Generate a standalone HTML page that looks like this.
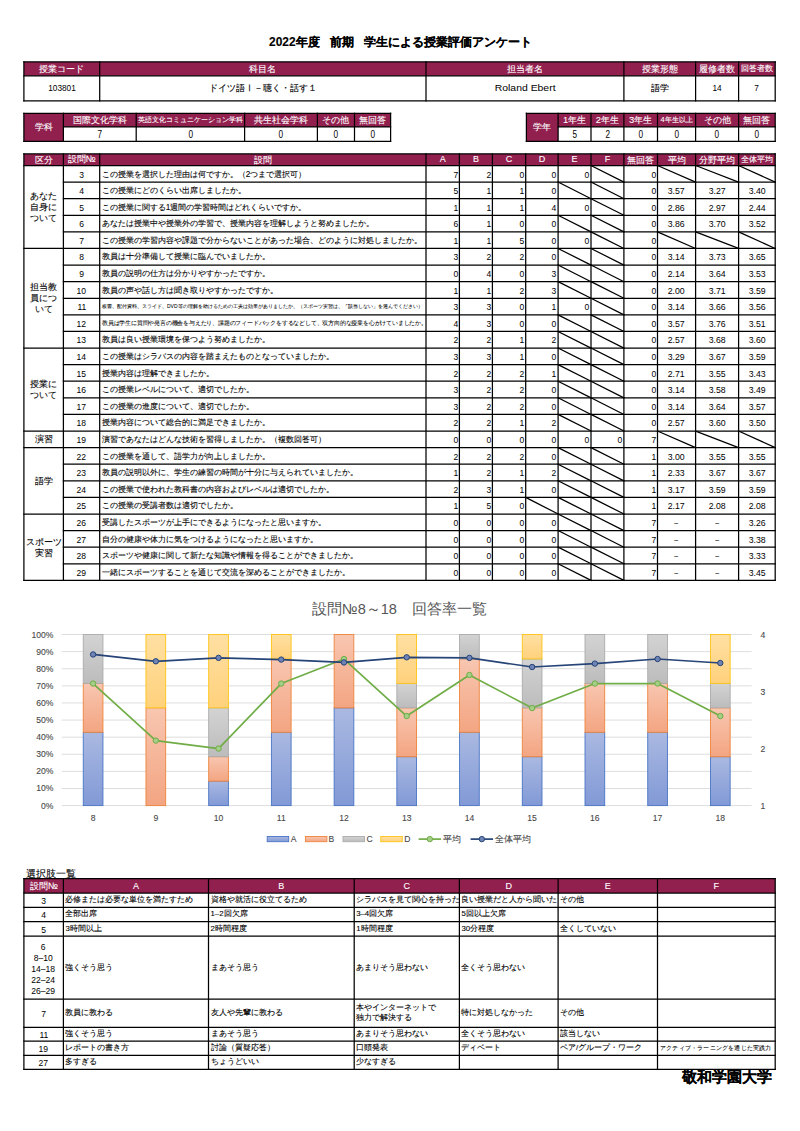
<!DOCTYPE html>
<html lang="ja">
<head>
<meta charset="utf-8">
<title>2022年度 前期 学生による授業評価アンケート</title>
<style>
html,body{margin:0;padding:0;background:#fff;}
html{width:800px;height:1131px;overflow:hidden;}
body{width:800px;height:1131px;position:relative;overflow:hidden;font-family:"Liberation Sans",sans-serif;}
#g{position:absolute;left:0;top:0;width:800px;height:1131px;}
.t{position:absolute;white-space:nowrap;overflow:visible;box-sizing:border-box;margin:0;-webkit-text-stroke:0.1px currentColor;}
.sc{display:inline-block;transform-origin:0 50%;}
.sx{display:inline-block;-webkit-text-stroke:0;}
</style>
</head>
<body>
<svg id="g" width="800" height="1131" viewBox="0 0 800 1131">
<rect x="23.90" y="61.90" width="751.30" height="13.90" fill="#92204f"/>
<rect x="23.90" y="113.30" width="366.70" height="13.60" fill="#92204f"/>
<rect x="23.90" y="113.30" width="39.50" height="28.10" fill="#92204f"/>
<rect x="526.40" y="113.30" width="248.80" height="13.60" fill="#92204f"/>
<rect x="526.40" y="113.30" width="31.70" height="28.10" fill="#92204f"/>
<rect x="23.90" y="153.90" width="751.30" height="11.60" fill="#92204f"/>
<rect x="23.90" y="878.60" width="751.30" height="14.40" fill="#92204f"/>
<defs><linearGradient id="gA" x1="0" y1="0" x2="0" y2="1"><stop offset="0" stop-color="#aab9e1"/><stop offset="1" stop-color="#8199d6"/></linearGradient><linearGradient id="gB" x1="0" y1="0" x2="0" y2="1"><stop offset="0" stop-color="#f8c6b0"/><stop offset="1" stop-color="#f3a582"/></linearGradient><linearGradient id="gC" x1="0" y1="0" x2="0" y2="1"><stop offset="0" stop-color="#d3d3d3"/><stop offset="1" stop-color="#bcbcbc"/></linearGradient><linearGradient id="gD" x1="0" y1="0" x2="0" y2="1"><stop offset="0" stop-color="#ffe0a3"/><stop offset="1" stop-color="#ffd17c"/></linearGradient></defs>
<line x1="61.74" y1="805.60" x2="751.66" y2="805.60" stroke="#d9d9d9" stroke-width="0.9"/>
<line x1="61.74" y1="788.49" x2="751.66" y2="788.49" stroke="#d9d9d9" stroke-width="0.9"/>
<line x1="61.74" y1="771.38" x2="751.66" y2="771.38" stroke="#d9d9d9" stroke-width="0.9"/>
<line x1="61.74" y1="754.27" x2="751.66" y2="754.27" stroke="#d9d9d9" stroke-width="0.9"/>
<line x1="61.74" y1="737.16" x2="751.66" y2="737.16" stroke="#d9d9d9" stroke-width="0.9"/>
<line x1="61.74" y1="720.05" x2="751.66" y2="720.05" stroke="#d9d9d9" stroke-width="0.9"/>
<line x1="61.74" y1="702.94" x2="751.66" y2="702.94" stroke="#d9d9d9" stroke-width="0.9"/>
<line x1="61.74" y1="685.83" x2="751.66" y2="685.83" stroke="#d9d9d9" stroke-width="0.9"/>
<line x1="61.74" y1="668.72" x2="751.66" y2="668.72" stroke="#d9d9d9" stroke-width="0.9"/>
<line x1="61.74" y1="651.61" x2="751.66" y2="651.61" stroke="#d9d9d9" stroke-width="0.9"/>
<line x1="61.74" y1="634.50" x2="751.66" y2="634.50" stroke="#d9d9d9" stroke-width="0.9"/>
<rect x="83.25" y="732.27" width="19.70" height="73.33" fill="url(#gA)" stroke="#4a75c5" stroke-width="0.9"/>
<rect x="83.25" y="683.39" width="19.70" height="48.89" fill="url(#gB)" stroke="#ee843c" stroke-width="0.9"/>
<rect x="83.25" y="634.50" width="19.70" height="48.89" fill="url(#gC)" stroke="#ababab" stroke-width="0.9"/>
<rect x="145.97" y="707.83" width="19.70" height="97.77" fill="url(#gB)" stroke="#ee843c" stroke-width="0.9"/>
<rect x="145.97" y="634.50" width="19.70" height="73.33" fill="url(#gD)" stroke="#ffc414" stroke-width="0.9"/>
<rect x="208.69" y="781.16" width="19.70" height="24.44" fill="url(#gA)" stroke="#4a75c5" stroke-width="0.9"/>
<rect x="208.69" y="756.71" width="19.70" height="24.44" fill="url(#gB)" stroke="#ee843c" stroke-width="0.9"/>
<rect x="208.69" y="707.83" width="19.70" height="48.89" fill="url(#gC)" stroke="#ababab" stroke-width="0.9"/>
<rect x="208.69" y="634.50" width="19.70" height="73.33" fill="url(#gD)" stroke="#ffc414" stroke-width="0.9"/>
<rect x="271.41" y="732.27" width="19.70" height="73.33" fill="url(#gA)" stroke="#4a75c5" stroke-width="0.9"/>
<rect x="271.41" y="658.94" width="19.70" height="73.33" fill="url(#gB)" stroke="#ee843c" stroke-width="0.9"/>
<rect x="271.41" y="634.50" width="19.70" height="24.44" fill="url(#gD)" stroke="#ffc414" stroke-width="0.9"/>
<rect x="334.13" y="707.83" width="19.70" height="97.77" fill="url(#gA)" stroke="#4a75c5" stroke-width="0.9"/>
<rect x="334.13" y="634.50" width="19.70" height="73.33" fill="url(#gB)" stroke="#ee843c" stroke-width="0.9"/>
<rect x="396.85" y="756.71" width="19.70" height="48.89" fill="url(#gA)" stroke="#4a75c5" stroke-width="0.9"/>
<rect x="396.85" y="707.83" width="19.70" height="48.89" fill="url(#gB)" stroke="#ee843c" stroke-width="0.9"/>
<rect x="396.85" y="683.39" width="19.70" height="24.44" fill="url(#gC)" stroke="#ababab" stroke-width="0.9"/>
<rect x="396.85" y="634.50" width="19.70" height="48.89" fill="url(#gD)" stroke="#ffc414" stroke-width="0.9"/>
<rect x="459.57" y="732.27" width="19.70" height="73.33" fill="url(#gA)" stroke="#4a75c5" stroke-width="0.9"/>
<rect x="459.57" y="658.94" width="19.70" height="73.33" fill="url(#gB)" stroke="#ee843c" stroke-width="0.9"/>
<rect x="459.57" y="634.50" width="19.70" height="24.44" fill="url(#gC)" stroke="#ababab" stroke-width="0.9"/>
<rect x="522.29" y="756.71" width="19.70" height="48.89" fill="url(#gA)" stroke="#4a75c5" stroke-width="0.9"/>
<rect x="522.29" y="707.83" width="19.70" height="48.89" fill="url(#gB)" stroke="#ee843c" stroke-width="0.9"/>
<rect x="522.29" y="658.94" width="19.70" height="48.89" fill="url(#gC)" stroke="#ababab" stroke-width="0.9"/>
<rect x="522.29" y="634.50" width="19.70" height="24.44" fill="url(#gD)" stroke="#ffc414" stroke-width="0.9"/>
<rect x="585.01" y="732.27" width="19.70" height="73.33" fill="url(#gA)" stroke="#4a75c5" stroke-width="0.9"/>
<rect x="585.01" y="683.39" width="19.70" height="48.89" fill="url(#gB)" stroke="#ee843c" stroke-width="0.9"/>
<rect x="585.01" y="634.50" width="19.70" height="48.89" fill="url(#gC)" stroke="#ababab" stroke-width="0.9"/>
<rect x="647.73" y="732.27" width="19.70" height="73.33" fill="url(#gA)" stroke="#4a75c5" stroke-width="0.9"/>
<rect x="647.73" y="683.39" width="19.70" height="48.89" fill="url(#gB)" stroke="#ee843c" stroke-width="0.9"/>
<rect x="647.73" y="634.50" width="19.70" height="48.89" fill="url(#gC)" stroke="#ababab" stroke-width="0.9"/>
<rect x="710.45" y="756.71" width="19.70" height="48.89" fill="url(#gA)" stroke="#4a75c5" stroke-width="0.9"/>
<rect x="710.45" y="707.83" width="19.70" height="48.89" fill="url(#gB)" stroke="#ee843c" stroke-width="0.9"/>
<rect x="710.45" y="683.39" width="19.70" height="24.44" fill="url(#gC)" stroke="#ababab" stroke-width="0.9"/>
<rect x="710.45" y="634.50" width="19.70" height="48.89" fill="url(#gD)" stroke="#ffc414" stroke-width="0.9"/>
<polyline points="93.10,683.55 155.82,740.58 218.54,748.57 281.26,683.55 343.98,659.02 406.70,716.06 469.42,674.99 532.14,708.07 594.86,683.55 657.58,683.55 720.30,716.06" fill="none" stroke="#70ad47" stroke-width="1.7" stroke-linejoin="round"/>
<circle cx="93.10" cy="683.55" r="2.7" fill="#a5cf88" stroke="#70ad47" stroke-width="1"/>
<circle cx="155.82" cy="740.58" r="2.7" fill="#a5cf88" stroke="#70ad47" stroke-width="1"/>
<circle cx="218.54" cy="748.57" r="2.7" fill="#a5cf88" stroke="#70ad47" stroke-width="1"/>
<circle cx="281.26" cy="683.55" r="2.7" fill="#a5cf88" stroke="#70ad47" stroke-width="1"/>
<circle cx="343.98" cy="659.02" r="2.7" fill="#a5cf88" stroke="#70ad47" stroke-width="1"/>
<circle cx="406.70" cy="716.06" r="2.7" fill="#a5cf88" stroke="#70ad47" stroke-width="1"/>
<circle cx="469.42" cy="674.99" r="2.7" fill="#a5cf88" stroke="#70ad47" stroke-width="1"/>
<circle cx="532.14" cy="708.07" r="2.7" fill="#a5cf88" stroke="#70ad47" stroke-width="1"/>
<circle cx="594.86" cy="683.55" r="2.7" fill="#a5cf88" stroke="#70ad47" stroke-width="1"/>
<circle cx="657.58" cy="683.55" r="2.7" fill="#a5cf88" stroke="#70ad47" stroke-width="1"/>
<circle cx="720.30" cy="716.06" r="2.7" fill="#a5cf88" stroke="#70ad47" stroke-width="1"/>
<polyline points="93.10,654.46 155.82,661.31 218.54,657.88 281.26,659.59 343.98,662.45 406.70,657.31 469.42,657.88 532.14,667.01 594.86,663.59 657.58,659.02 720.30,663.02" fill="none" stroke="#264478" stroke-width="1.7" stroke-linejoin="round"/>
<circle cx="93.10" cy="654.46" r="2.7" fill="#6f83b5" stroke="#264478" stroke-width="1"/>
<circle cx="155.82" cy="661.31" r="2.7" fill="#6f83b5" stroke="#264478" stroke-width="1"/>
<circle cx="218.54" cy="657.88" r="2.7" fill="#6f83b5" stroke="#264478" stroke-width="1"/>
<circle cx="281.26" cy="659.59" r="2.7" fill="#6f83b5" stroke="#264478" stroke-width="1"/>
<circle cx="343.98" cy="662.45" r="2.7" fill="#6f83b5" stroke="#264478" stroke-width="1"/>
<circle cx="406.70" cy="657.31" r="2.7" fill="#6f83b5" stroke="#264478" stroke-width="1"/>
<circle cx="469.42" cy="657.88" r="2.7" fill="#6f83b5" stroke="#264478" stroke-width="1"/>
<circle cx="532.14" cy="667.01" r="2.7" fill="#6f83b5" stroke="#264478" stroke-width="1"/>
<circle cx="594.86" cy="663.59" r="2.7" fill="#6f83b5" stroke="#264478" stroke-width="1"/>
<circle cx="657.58" cy="659.02" r="2.7" fill="#6f83b5" stroke="#264478" stroke-width="1"/>
<circle cx="720.30" cy="663.02" r="2.7" fill="#6f83b5" stroke="#264478" stroke-width="1"/>
<rect x="267.20" y="836.50" width="21.5" height="5.2" fill="url(#gA)" stroke="#4a75c5" stroke-width="0.9"/>
<rect x="305.40" y="836.50" width="21.5" height="5.2" fill="url(#gB)" stroke="#ee843c" stroke-width="0.9"/>
<rect x="343.00" y="836.50" width="21.5" height="5.2" fill="url(#gC)" stroke="#ababab" stroke-width="0.9"/>
<rect x="380.80" y="836.50" width="21.5" height="5.2" fill="url(#gD)" stroke="#ffc414" stroke-width="0.9"/>
<line x1="418.6" y1="839.1" x2="441.1" y2="839.1" stroke="#70ad47" stroke-width="1.7"/>
<circle cx="429.85" cy="839.1" r="2.7" fill="#a5cf88" stroke="#70ad47" stroke-width="1"/>
<line x1="470.6" y1="839.1" x2="493.1" y2="839.1" stroke="#264478" stroke-width="1.7"/>
<circle cx="481.85" cy="839.1" r="2.7" fill="#6f83b5" stroke="#264478" stroke-width="1"/>
<g stroke="#000" stroke-linecap="square">
<line x1="23.90" y1="61.90" x2="23.90" y2="100.90" stroke-width="1.25"/>
<line x1="99.70" y1="61.90" x2="99.70" y2="100.90" stroke-width="1.25"/>
<line x1="426.00" y1="61.90" x2="426.00" y2="100.90" stroke-width="1.25"/>
<line x1="623.90" y1="61.90" x2="623.90" y2="100.90" stroke-width="1.25"/>
<line x1="695.60" y1="61.90" x2="695.60" y2="100.90" stroke-width="1.25"/>
<line x1="738.60" y1="61.90" x2="738.60" y2="100.90" stroke-width="1.25"/>
<line x1="775.20" y1="61.90" x2="775.20" y2="100.90" stroke-width="1.25"/>
<line x1="23.90" y1="61.90" x2="775.20" y2="61.90" stroke-width="1.25"/>
<line x1="23.90" y1="75.80" x2="775.20" y2="75.80" stroke-width="1.25"/>
<line x1="23.90" y1="100.90" x2="775.20" y2="100.90" stroke-width="1.25"/>
<line x1="23.90" y1="113.30" x2="23.90" y2="141.40" stroke-width="1.25"/>
<line x1="63.40" y1="113.30" x2="63.40" y2="141.40" stroke-width="1.25"/>
<line x1="136.20" y1="113.30" x2="136.20" y2="141.40" stroke-width="1.25"/>
<line x1="244.60" y1="113.30" x2="244.60" y2="141.40" stroke-width="1.25"/>
<line x1="317.40" y1="113.30" x2="317.40" y2="141.40" stroke-width="1.25"/>
<line x1="354.50" y1="113.30" x2="354.50" y2="141.40" stroke-width="1.25"/>
<line x1="390.60" y1="113.30" x2="390.60" y2="141.40" stroke-width="1.25"/>
<line x1="23.90" y1="113.30" x2="390.60" y2="113.30" stroke-width="1.25"/>
<line x1="63.40" y1="126.90" x2="390.60" y2="126.90" stroke-width="1.25"/>
<line x1="23.90" y1="141.40" x2="390.60" y2="141.40" stroke-width="1.25"/>
<line x1="526.40" y1="113.30" x2="526.40" y2="141.40" stroke-width="1.25"/>
<line x1="558.10" y1="113.30" x2="558.10" y2="141.40" stroke-width="1.25"/>
<line x1="591.00" y1="113.30" x2="591.00" y2="141.40" stroke-width="1.25"/>
<line x1="623.90" y1="113.30" x2="623.90" y2="141.40" stroke-width="1.25"/>
<line x1="657.50" y1="113.30" x2="657.50" y2="141.40" stroke-width="1.25"/>
<line x1="695.60" y1="113.30" x2="695.60" y2="141.40" stroke-width="1.25"/>
<line x1="738.60" y1="113.30" x2="738.60" y2="141.40" stroke-width="1.25"/>
<line x1="775.20" y1="113.30" x2="775.20" y2="141.40" stroke-width="1.25"/>
<line x1="526.40" y1="113.30" x2="775.20" y2="113.30" stroke-width="1.25"/>
<line x1="558.10" y1="126.90" x2="775.20" y2="126.90" stroke-width="1.25"/>
<line x1="526.40" y1="141.40" x2="775.20" y2="141.40" stroke-width="1.25"/>
<line x1="23.90" y1="153.90" x2="23.90" y2="580.38" stroke-width="1.25"/>
<line x1="63.40" y1="153.90" x2="63.40" y2="580.38" stroke-width="1.25"/>
<line x1="99.70" y1="153.90" x2="99.70" y2="580.38" stroke-width="1.25"/>
<line x1="426.00" y1="153.90" x2="426.00" y2="580.38" stroke-width="1.25"/>
<line x1="459.40" y1="153.90" x2="459.40" y2="580.38" stroke-width="1.25"/>
<line x1="492.40" y1="153.90" x2="492.40" y2="580.38" stroke-width="1.25"/>
<line x1="525.70" y1="153.90" x2="525.70" y2="580.38" stroke-width="1.25"/>
<line x1="558.10" y1="153.90" x2="558.10" y2="580.38" stroke-width="1.25"/>
<line x1="591.00" y1="153.90" x2="591.00" y2="580.38" stroke-width="1.25"/>
<line x1="623.90" y1="153.90" x2="623.90" y2="580.38" stroke-width="1.25"/>
<line x1="657.50" y1="153.90" x2="657.50" y2="580.38" stroke-width="1.25"/>
<line x1="695.60" y1="153.90" x2="695.60" y2="580.38" stroke-width="1.25"/>
<line x1="738.60" y1="153.90" x2="738.60" y2="580.38" stroke-width="1.25"/>
<line x1="775.20" y1="153.90" x2="775.20" y2="580.38" stroke-width="1.25"/>
<line x1="23.90" y1="153.90" x2="775.20" y2="153.90" stroke-width="1.25"/>
<line x1="23.90" y1="165.50" x2="775.20" y2="165.50" stroke-width="1.25"/>
<line x1="63.40" y1="182.09" x2="775.20" y2="182.09" stroke-width="1.25"/>
<line x1="63.40" y1="198.69" x2="775.20" y2="198.69" stroke-width="1.25"/>
<line x1="63.40" y1="215.28" x2="775.20" y2="215.28" stroke-width="1.25"/>
<line x1="63.40" y1="231.88" x2="775.20" y2="231.88" stroke-width="1.25"/>
<line x1="23.90" y1="248.47" x2="775.20" y2="248.47" stroke-width="1.25"/>
<line x1="63.40" y1="265.07" x2="775.20" y2="265.07" stroke-width="1.25"/>
<line x1="63.40" y1="281.66" x2="775.20" y2="281.66" stroke-width="1.25"/>
<line x1="63.40" y1="298.26" x2="775.20" y2="298.26" stroke-width="1.25"/>
<line x1="63.40" y1="314.86" x2="775.20" y2="314.86" stroke-width="1.25"/>
<line x1="63.40" y1="331.45" x2="775.20" y2="331.45" stroke-width="1.25"/>
<line x1="23.90" y1="348.04" x2="775.20" y2="348.04" stroke-width="1.25"/>
<line x1="63.40" y1="364.64" x2="775.20" y2="364.64" stroke-width="1.25"/>
<line x1="63.40" y1="381.24" x2="775.20" y2="381.24" stroke-width="1.25"/>
<line x1="63.40" y1="397.83" x2="775.20" y2="397.83" stroke-width="1.25"/>
<line x1="63.40" y1="414.42" x2="775.20" y2="414.42" stroke-width="1.25"/>
<line x1="23.90" y1="431.02" x2="775.20" y2="431.02" stroke-width="1.25"/>
<line x1="23.90" y1="447.62" x2="775.20" y2="447.62" stroke-width="1.25"/>
<line x1="63.40" y1="464.21" x2="775.20" y2="464.21" stroke-width="1.25"/>
<line x1="63.40" y1="480.80" x2="775.20" y2="480.80" stroke-width="1.25"/>
<line x1="63.40" y1="497.40" x2="775.20" y2="497.40" stroke-width="1.25"/>
<line x1="23.90" y1="514.00" x2="775.20" y2="514.00" stroke-width="1.25"/>
<line x1="63.40" y1="530.59" x2="775.20" y2="530.59" stroke-width="1.25"/>
<line x1="63.40" y1="547.18" x2="775.20" y2="547.18" stroke-width="1.25"/>
<line x1="63.40" y1="563.78" x2="775.20" y2="563.78" stroke-width="1.25"/>
<line x1="23.90" y1="580.38" x2="775.20" y2="580.38" stroke-width="1.25"/>
<line x1="591.00" y1="165.50" x2="623.90" y2="182.09" stroke-width="1.25"/>
<line x1="657.50" y1="165.50" x2="695.60" y2="182.09" stroke-width="1.25"/>
<line x1="695.60" y1="165.50" x2="738.60" y2="182.09" stroke-width="1.25"/>
<line x1="738.60" y1="165.50" x2="775.20" y2="182.09" stroke-width="1.25"/>
<line x1="558.10" y1="182.09" x2="591.00" y2="198.69" stroke-width="1.25"/>
<line x1="591.00" y1="182.09" x2="623.90" y2="198.69" stroke-width="1.25"/>
<line x1="591.00" y1="198.69" x2="623.90" y2="215.28" stroke-width="1.25"/>
<line x1="558.10" y1="215.28" x2="591.00" y2="231.88" stroke-width="1.25"/>
<line x1="591.00" y1="215.28" x2="623.90" y2="231.88" stroke-width="1.25"/>
<line x1="591.00" y1="231.88" x2="623.90" y2="248.47" stroke-width="1.25"/>
<line x1="657.50" y1="231.88" x2="695.60" y2="248.47" stroke-width="1.25"/>
<line x1="695.60" y1="231.88" x2="738.60" y2="248.47" stroke-width="1.25"/>
<line x1="738.60" y1="231.88" x2="775.20" y2="248.47" stroke-width="1.25"/>
<line x1="558.10" y1="248.47" x2="591.00" y2="265.07" stroke-width="1.25"/>
<line x1="591.00" y1="248.47" x2="623.90" y2="265.07" stroke-width="1.25"/>
<line x1="558.10" y1="265.07" x2="591.00" y2="281.66" stroke-width="1.25"/>
<line x1="591.00" y1="265.07" x2="623.90" y2="281.66" stroke-width="1.25"/>
<line x1="558.10" y1="281.66" x2="591.00" y2="298.26" stroke-width="1.25"/>
<line x1="591.00" y1="281.66" x2="623.90" y2="298.26" stroke-width="1.25"/>
<line x1="591.00" y1="298.26" x2="623.90" y2="314.86" stroke-width="1.25"/>
<line x1="558.10" y1="314.86" x2="591.00" y2="331.45" stroke-width="1.25"/>
<line x1="591.00" y1="314.86" x2="623.90" y2="331.45" stroke-width="1.25"/>
<line x1="558.10" y1="331.45" x2="591.00" y2="348.04" stroke-width="1.25"/>
<line x1="591.00" y1="331.45" x2="623.90" y2="348.04" stroke-width="1.25"/>
<line x1="558.10" y1="348.04" x2="591.00" y2="364.64" stroke-width="1.25"/>
<line x1="591.00" y1="348.04" x2="623.90" y2="364.64" stroke-width="1.25"/>
<line x1="558.10" y1="364.64" x2="591.00" y2="381.24" stroke-width="1.25"/>
<line x1="591.00" y1="364.64" x2="623.90" y2="381.24" stroke-width="1.25"/>
<line x1="558.10" y1="381.24" x2="591.00" y2="397.83" stroke-width="1.25"/>
<line x1="591.00" y1="381.24" x2="623.90" y2="397.83" stroke-width="1.25"/>
<line x1="558.10" y1="397.83" x2="591.00" y2="414.42" stroke-width="1.25"/>
<line x1="591.00" y1="397.83" x2="623.90" y2="414.42" stroke-width="1.25"/>
<line x1="558.10" y1="414.42" x2="591.00" y2="431.02" stroke-width="1.25"/>
<line x1="591.00" y1="414.42" x2="623.90" y2="431.02" stroke-width="1.25"/>
<line x1="657.50" y1="431.02" x2="695.60" y2="447.62" stroke-width="1.25"/>
<line x1="695.60" y1="431.02" x2="738.60" y2="447.62" stroke-width="1.25"/>
<line x1="738.60" y1="431.02" x2="775.20" y2="447.62" stroke-width="1.25"/>
<line x1="558.10" y1="447.62" x2="591.00" y2="464.21" stroke-width="1.25"/>
<line x1="591.00" y1="447.62" x2="623.90" y2="464.21" stroke-width="1.25"/>
<line x1="558.10" y1="464.21" x2="591.00" y2="480.80" stroke-width="1.25"/>
<line x1="591.00" y1="464.21" x2="623.90" y2="480.80" stroke-width="1.25"/>
<line x1="558.10" y1="480.80" x2="591.00" y2="497.40" stroke-width="1.25"/>
<line x1="591.00" y1="480.80" x2="623.90" y2="497.40" stroke-width="1.25"/>
<line x1="525.70" y1="497.40" x2="558.10" y2="514.00" stroke-width="1.25"/>
<line x1="558.10" y1="497.40" x2="591.00" y2="514.00" stroke-width="1.25"/>
<line x1="591.00" y1="497.40" x2="623.90" y2="514.00" stroke-width="1.25"/>
<line x1="558.10" y1="514.00" x2="591.00" y2="530.59" stroke-width="1.25"/>
<line x1="591.00" y1="514.00" x2="623.90" y2="530.59" stroke-width="1.25"/>
<line x1="558.10" y1="530.59" x2="591.00" y2="547.18" stroke-width="1.25"/>
<line x1="591.00" y1="530.59" x2="623.90" y2="547.18" stroke-width="1.25"/>
<line x1="558.10" y1="547.18" x2="591.00" y2="563.78" stroke-width="1.25"/>
<line x1="591.00" y1="547.18" x2="623.90" y2="563.78" stroke-width="1.25"/>
<line x1="558.10" y1="563.78" x2="591.00" y2="580.38" stroke-width="1.25"/>
<line x1="591.00" y1="563.78" x2="623.90" y2="580.38" stroke-width="1.25"/>
<line x1="23.90" y1="878.60" x2="23.90" y2="1069.40" stroke-width="1.25"/>
<line x1="63.40" y1="878.60" x2="63.40" y2="1069.40" stroke-width="1.25"/>
<line x1="208.50" y1="878.60" x2="208.50" y2="1069.40" stroke-width="1.25"/>
<line x1="354.20" y1="878.60" x2="354.20" y2="1069.40" stroke-width="1.25"/>
<line x1="459.40" y1="878.60" x2="459.40" y2="1069.40" stroke-width="1.25"/>
<line x1="558.10" y1="878.60" x2="558.10" y2="1069.40" stroke-width="1.25"/>
<line x1="657.50" y1="878.60" x2="657.50" y2="1069.40" stroke-width="1.25"/>
<line x1="775.20" y1="878.60" x2="775.20" y2="1069.40" stroke-width="1.25"/>
<line x1="23.90" y1="878.60" x2="775.20" y2="878.60" stroke-width="1.25"/>
<line x1="23.90" y1="893.00" x2="775.20" y2="893.00" stroke-width="1.25"/>
<line x1="23.90" y1="907.40" x2="775.20" y2="907.40" stroke-width="1.25"/>
<line x1="23.90" y1="921.70" x2="775.20" y2="921.70" stroke-width="1.25"/>
<line x1="23.90" y1="936.00" x2="775.20" y2="936.00" stroke-width="1.25"/>
<line x1="23.90" y1="999.20" x2="775.20" y2="999.20" stroke-width="1.25"/>
<line x1="23.90" y1="1027.40" x2="775.20" y2="1027.40" stroke-width="1.25"/>
<line x1="23.90" y1="1041.20" x2="775.20" y2="1041.20" stroke-width="1.25"/>
<line x1="23.90" y1="1055.30" x2="775.20" y2="1055.30" stroke-width="1.25"/>
<line x1="23.90" y1="1069.40" x2="775.20" y2="1069.40" stroke-width="1.25"/>
</g>
</svg>
<div class="t" style="left:200.80px;top:32.30px;width:399.00px;height:20.00px;line-height:20.00px;font-size:11.95px;text-align:center;color:#000;font-weight:bold;">2022年度&nbsp;&nbsp;&nbsp;前期&nbsp;&nbsp;&nbsp;学生による授業評価アンケート</div>
<div class="t" style="left:23.90px;top:61.90px;width:75.80px;height:13.90px;line-height:13.90px;font-size:9.4px;text-align:center;color:#fff;">授業コード</div>
<div class="t" style="left:23.90px;top:76.10px;width:75.80px;height:25.10px;line-height:25.10px;font-size:9.0px;text-align:center;color:#000;"><span class="sx" style="transform:scaleX(0.92);transform-origin:50% 50%;">103801</span></div>
<div class="t" style="left:99.70px;top:61.90px;width:326.30px;height:13.90px;line-height:13.90px;font-size:9.4px;text-align:center;color:#fff;">科目名</div>
<div class="t" style="left:99.70px;top:76.10px;width:326.30px;height:25.10px;line-height:25.10px;font-size:8.6px;text-align:center;color:#000;">ドイツ語Ⅰ－聴く・話す１</div>
<div class="t" style="left:426.00px;top:61.90px;width:197.90px;height:13.90px;line-height:13.90px;font-size:9.4px;text-align:center;color:#fff;">担当者名</div>
<div class="t" style="left:426.00px;top:76.10px;width:197.90px;height:25.10px;line-height:25.10px;font-size:9.3px;text-align:center;color:#000;"><span class="sx" style="transform:scaleX(1.12);transform-origin:50% 50%;">Roland Ebert</span></div>
<div class="t" style="left:623.90px;top:61.90px;width:71.70px;height:13.90px;line-height:13.90px;font-size:9.4px;text-align:center;color:#fff;">授業形態</div>
<div class="t" style="left:623.90px;top:76.10px;width:71.70px;height:25.10px;line-height:25.10px;font-size:9.0px;text-align:center;color:#000;">語学</div>
<div class="t" style="left:695.60px;top:61.90px;width:43.00px;height:13.90px;line-height:13.90px;font-size:9.4px;text-align:center;color:#fff;">履修者数</div>
<div class="t" style="left:695.60px;top:76.10px;width:43.00px;height:25.10px;line-height:25.10px;font-size:9.0px;text-align:center;color:#000;"><span class="sx" style="transform:scaleX(0.92);transform-origin:50% 50%;">14</span></div>
<div class="t" style="left:738.60px;top:61.90px;width:36.60px;height:13.90px;line-height:13.90px;font-size:7.8px;text-align:center;color:#fff;">回答者数</div>
<div class="t" style="left:738.60px;top:76.10px;width:36.60px;height:25.10px;line-height:25.10px;font-size:9.0px;text-align:center;color:#000;"><span class="sx" style="transform:scaleX(0.92);transform-origin:50% 50%;">7</span></div>
<div class="t" style="left:23.90px;top:113.30px;width:39.50px;height:28.10px;line-height:28.10px;font-size:9.4px;text-align:center;color:#fff;">学科</div>
<div class="t" style="left:63.40px;top:113.30px;width:72.80px;height:13.60px;line-height:13.60px;font-size:9.45px;text-align:center;color:#fff;">国際文化学科</div>
<div class="t" style="left:63.40px;top:128.10px;width:72.80px;height:14.50px;line-height:14.50px;font-size:10px;text-align:center;color:#000;"><span class="sx" style="transform:scaleX(0.82);transform-origin:50% 50%;">7</span></div>
<div class="t" style="left:136.20px;top:113.30px;width:108.40px;height:13.60px;line-height:13.60px;font-size:6.9px;text-align:center;color:#fff;">英語文化コミュニケーション学科</div>
<div class="t" style="left:136.20px;top:128.10px;width:108.40px;height:14.50px;line-height:14.50px;font-size:10px;text-align:center;color:#000;"><span class="sx" style="transform:scaleX(0.82);transform-origin:50% 50%;">0</span></div>
<div class="t" style="left:244.60px;top:113.30px;width:72.80px;height:13.60px;line-height:13.60px;font-size:9.45px;text-align:center;color:#fff;">共生社会学科</div>
<div class="t" style="left:244.60px;top:128.10px;width:72.80px;height:14.50px;line-height:14.50px;font-size:10px;text-align:center;color:#000;"><span class="sx" style="transform:scaleX(0.82);transform-origin:50% 50%;">0</span></div>
<div class="t" style="left:317.40px;top:113.30px;width:37.10px;height:13.60px;line-height:13.60px;font-size:9.4px;text-align:center;color:#fff;">その他</div>
<div class="t" style="left:317.40px;top:128.10px;width:37.10px;height:14.50px;line-height:14.50px;font-size:10px;text-align:center;color:#000;"><span class="sx" style="transform:scaleX(0.82);transform-origin:50% 50%;">0</span></div>
<div class="t" style="left:354.50px;top:113.30px;width:36.10px;height:13.60px;line-height:13.60px;font-size:9.4px;text-align:center;color:#fff;">無回答</div>
<div class="t" style="left:354.50px;top:128.10px;width:36.10px;height:14.50px;line-height:14.50px;font-size:10px;text-align:center;color:#000;"><span class="sx" style="transform:scaleX(0.82);transform-origin:50% 50%;">0</span></div>
<div class="t" style="left:526.40px;top:113.30px;width:31.70px;height:28.10px;line-height:28.10px;font-size:9.4px;text-align:center;color:#fff;">学年</div>
<div class="t" style="left:558.10px;top:113.30px;width:32.90px;height:13.60px;line-height:13.60px;font-size:9.4px;text-align:center;color:#fff;">1年生</div>
<div class="t" style="left:558.10px;top:128.10px;width:32.90px;height:14.50px;line-height:14.50px;font-size:10px;text-align:center;color:#000;"><span class="sx" style="transform:scaleX(0.82);transform-origin:50% 50%;">5</span></div>
<div class="t" style="left:591.00px;top:113.30px;width:32.90px;height:13.60px;line-height:13.60px;font-size:9.4px;text-align:center;color:#fff;">2年生</div>
<div class="t" style="left:591.00px;top:128.10px;width:32.90px;height:14.50px;line-height:14.50px;font-size:10px;text-align:center;color:#000;"><span class="sx" style="transform:scaleX(0.82);transform-origin:50% 50%;">2</span></div>
<div class="t" style="left:623.90px;top:113.30px;width:33.60px;height:13.60px;line-height:13.60px;font-size:9.4px;text-align:center;color:#fff;">3年生</div>
<div class="t" style="left:623.90px;top:128.10px;width:33.60px;height:14.50px;line-height:14.50px;font-size:10px;text-align:center;color:#000;"><span class="sx" style="transform:scaleX(0.82);transform-origin:50% 50%;">0</span></div>
<div class="t" style="left:657.50px;top:113.30px;width:38.10px;height:13.60px;line-height:13.60px;font-size:7.3px;text-align:center;color:#fff;">4年生以上</div>
<div class="t" style="left:657.50px;top:128.10px;width:38.10px;height:14.50px;line-height:14.50px;font-size:10px;text-align:center;color:#000;"><span class="sx" style="transform:scaleX(0.82);transform-origin:50% 50%;">0</span></div>
<div class="t" style="left:695.60px;top:113.30px;width:43.00px;height:13.60px;line-height:13.60px;font-size:9.4px;text-align:center;color:#fff;">その他</div>
<div class="t" style="left:695.60px;top:128.10px;width:43.00px;height:14.50px;line-height:14.50px;font-size:10px;text-align:center;color:#000;"><span class="sx" style="transform:scaleX(0.82);transform-origin:50% 50%;">0</span></div>
<div class="t" style="left:738.60px;top:113.30px;width:36.60px;height:13.60px;line-height:13.60px;font-size:9.4px;text-align:center;color:#fff;">無回答</div>
<div class="t" style="left:738.60px;top:128.10px;width:36.60px;height:14.50px;line-height:14.50px;font-size:10px;text-align:center;color:#000;"><span class="sx" style="transform:scaleX(0.82);transform-origin:50% 50%;">0</span></div>
<div class="t" style="left:23.90px;top:153.90px;width:39.50px;height:11.60px;line-height:11.60px;font-size:9.4px;text-align:center;color:#fff;">区分</div>
<div class="t" style="left:63.40px;top:153.90px;width:36.30px;height:11.60px;line-height:11.60px;font-size:9.2px;text-align:center;color:#fff;">設問№</div>
<div class="t" style="left:99.70px;top:153.90px;width:326.30px;height:11.60px;line-height:11.60px;font-size:9.4px;text-align:center;color:#fff;">設問</div>
<div class="t" style="left:426.00px;top:153.90px;width:33.40px;height:11.60px;line-height:11.60px;font-size:9px;text-align:center;color:#fff;">A</div>
<div class="t" style="left:459.40px;top:153.90px;width:33.00px;height:11.60px;line-height:11.60px;font-size:9px;text-align:center;color:#fff;">B</div>
<div class="t" style="left:492.40px;top:153.90px;width:33.30px;height:11.60px;line-height:11.60px;font-size:9px;text-align:center;color:#fff;">C</div>
<div class="t" style="left:525.70px;top:153.90px;width:32.40px;height:11.60px;line-height:11.60px;font-size:9px;text-align:center;color:#fff;">D</div>
<div class="t" style="left:558.10px;top:153.90px;width:32.90px;height:11.60px;line-height:11.60px;font-size:9px;text-align:center;color:#fff;">E</div>
<div class="t" style="left:591.00px;top:153.90px;width:32.90px;height:11.60px;line-height:11.60px;font-size:9px;text-align:center;color:#fff;">F</div>
<div class="t" style="left:623.90px;top:153.90px;width:33.60px;height:11.60px;line-height:11.60px;font-size:9.4px;text-align:center;color:#fff;">無回答</div>
<div class="t" style="left:657.50px;top:153.90px;width:38.10px;height:11.60px;line-height:11.60px;font-size:9.4px;text-align:center;color:#fff;">平均</div>
<div class="t" style="left:695.60px;top:153.90px;width:43.00px;height:11.60px;line-height:11.60px;font-size:9.4px;text-align:center;color:#fff;">分野平均</div>
<div class="t" style="left:738.60px;top:153.90px;width:36.60px;height:11.60px;line-height:11.60px;font-size:7.8px;text-align:center;color:#fff;">全体平均</div>
<div class="t" style="left:23.90px;top:190.89px;width:39.50px;height:33.00px;line-height:11.00px;font-size:9.3px;text-align:center;color:#000;">あなた<br>自身に<br>ついて</div>
<div class="t" style="left:23.90px;top:282.16px;width:39.50px;height:33.00px;line-height:11.00px;font-size:9.3px;text-align:center;color:#000;">担当教<br>員につ<br>いて</div>
<div class="t" style="left:23.90px;top:378.93px;width:39.50px;height:22.00px;line-height:11.00px;font-size:9.3px;text-align:center;color:#000;">授業に<br>ついて</div>
<div class="t" style="left:23.90px;top:431.42px;width:39.50px;height:16.60px;line-height:16.60px;font-size:9.3px;text-align:center;color:#000;">演習</div>
<div class="t" style="left:23.90px;top:448.01px;width:39.50px;height:66.38px;line-height:66.38px;font-size:9.3px;text-align:center;color:#000;">語学</div>
<div class="t" style="left:23.90px;top:536.59px;width:39.50px;height:22.00px;line-height:11.00px;font-size:9.3px;text-align:center;color:#000;">スポーツ<br>実習</div>
<div class="t" style="left:63.40px;top:166.50px;width:36.30px;height:16.59px;line-height:16.59px;font-size:9.5px;text-align:center;color:#000;"><span class="sx" style="transform:scaleX(0.9);transform-origin:50% 50%;">3</span></div>
<div class="t" style="left:99.70px;top:165.50px;width:326.30px;height:16.59px;line-height:16.59px;font-size:8.3px;text-align:left;color:#000;padding-left:2px;">この授業を選択した理由は何ですか。（2つまで選択可）</div>
<div class="t" style="left:426.00px;top:166.50px;width:33.40px;height:16.59px;line-height:16.59px;font-size:9.5px;text-align:right;color:#000;padding-right:1.6px;"><span class="sx" style="transform:scaleX(0.9);transform-origin:100% 50%;">7</span></div>
<div class="t" style="left:459.40px;top:166.50px;width:33.00px;height:16.59px;line-height:16.59px;font-size:9.5px;text-align:right;color:#000;padding-right:1.6px;"><span class="sx" style="transform:scaleX(0.9);transform-origin:100% 50%;">2</span></div>
<div class="t" style="left:492.40px;top:166.50px;width:33.30px;height:16.59px;line-height:16.59px;font-size:9.5px;text-align:right;color:#000;padding-right:1.6px;"><span class="sx" style="transform:scaleX(0.9);transform-origin:100% 50%;">0</span></div>
<div class="t" style="left:525.70px;top:166.50px;width:32.40px;height:16.59px;line-height:16.59px;font-size:9.5px;text-align:right;color:#000;padding-right:1.6px;"><span class="sx" style="transform:scaleX(0.9);transform-origin:100% 50%;">0</span></div>
<div class="t" style="left:558.10px;top:166.50px;width:32.90px;height:16.59px;line-height:16.59px;font-size:9.5px;text-align:right;color:#000;padding-right:1.6px;"><span class="sx" style="transform:scaleX(0.9);transform-origin:100% 50%;">0</span></div>
<div class="t" style="left:623.90px;top:166.50px;width:33.60px;height:16.59px;line-height:16.59px;font-size:9.5px;text-align:right;color:#000;padding-right:1.6px;"><span class="sx" style="transform:scaleX(0.9);transform-origin:100% 50%;">0</span></div>
<div class="t" style="left:63.40px;top:183.09px;width:36.30px;height:16.59px;line-height:16.59px;font-size:9.5px;text-align:center;color:#000;"><span class="sx" style="transform:scaleX(0.9);transform-origin:50% 50%;">4</span></div>
<div class="t" style="left:99.70px;top:182.09px;width:326.30px;height:16.59px;line-height:16.59px;font-size:8.3px;text-align:left;color:#000;padding-left:2px;">この授業にどのくらい出席しましたか。</div>
<div class="t" style="left:426.00px;top:183.09px;width:33.40px;height:16.59px;line-height:16.59px;font-size:9.5px;text-align:right;color:#000;padding-right:1.6px;"><span class="sx" style="transform:scaleX(0.9);transform-origin:100% 50%;">5</span></div>
<div class="t" style="left:459.40px;top:183.09px;width:33.00px;height:16.59px;line-height:16.59px;font-size:9.5px;text-align:right;color:#000;padding-right:1.6px;"><span class="sx" style="transform:scaleX(0.9);transform-origin:100% 50%;">1</span></div>
<div class="t" style="left:492.40px;top:183.09px;width:33.30px;height:16.59px;line-height:16.59px;font-size:9.5px;text-align:right;color:#000;padding-right:1.6px;"><span class="sx" style="transform:scaleX(0.9);transform-origin:100% 50%;">1</span></div>
<div class="t" style="left:525.70px;top:183.09px;width:32.40px;height:16.59px;line-height:16.59px;font-size:9.5px;text-align:right;color:#000;padding-right:1.6px;"><span class="sx" style="transform:scaleX(0.9);transform-origin:100% 50%;">0</span></div>
<div class="t" style="left:623.90px;top:183.09px;width:33.60px;height:16.59px;line-height:16.59px;font-size:9.5px;text-align:right;color:#000;padding-right:1.6px;"><span class="sx" style="transform:scaleX(0.9);transform-origin:100% 50%;">0</span></div>
<div class="t" style="left:657.50px;top:183.09px;width:38.10px;height:16.59px;line-height:16.59px;font-size:9.4px;text-align:center;color:#000;"><span class="sx" style="transform:scaleX(0.93);transform-origin:50% 50%;">3.57</span></div>
<div class="t" style="left:695.60px;top:183.09px;width:43.00px;height:16.59px;line-height:16.59px;font-size:9.4px;text-align:center;color:#000;"><span class="sx" style="transform:scaleX(0.93);transform-origin:50% 50%;">3.27</span></div>
<div class="t" style="left:738.60px;top:183.09px;width:36.60px;height:16.59px;line-height:16.59px;font-size:9.4px;text-align:center;color:#000;"><span class="sx" style="transform:scaleX(0.93);transform-origin:50% 50%;">3.40</span></div>
<div class="t" style="left:63.40px;top:199.69px;width:36.30px;height:16.59px;line-height:16.59px;font-size:9.5px;text-align:center;color:#000;"><span class="sx" style="transform:scaleX(0.9);transform-origin:50% 50%;">5</span></div>
<div class="t" style="left:99.70px;top:198.69px;width:326.30px;height:16.59px;line-height:16.59px;font-size:8.3px;text-align:left;color:#000;padding-left:2px;">この授業に関する1週間の学習時間はどれくらいですか。</div>
<div class="t" style="left:426.00px;top:199.69px;width:33.40px;height:16.59px;line-height:16.59px;font-size:9.5px;text-align:right;color:#000;padding-right:1.6px;"><span class="sx" style="transform:scaleX(0.9);transform-origin:100% 50%;">1</span></div>
<div class="t" style="left:459.40px;top:199.69px;width:33.00px;height:16.59px;line-height:16.59px;font-size:9.5px;text-align:right;color:#000;padding-right:1.6px;"><span class="sx" style="transform:scaleX(0.9);transform-origin:100% 50%;">1</span></div>
<div class="t" style="left:492.40px;top:199.69px;width:33.30px;height:16.59px;line-height:16.59px;font-size:9.5px;text-align:right;color:#000;padding-right:1.6px;"><span class="sx" style="transform:scaleX(0.9);transform-origin:100% 50%;">1</span></div>
<div class="t" style="left:525.70px;top:199.69px;width:32.40px;height:16.59px;line-height:16.59px;font-size:9.5px;text-align:right;color:#000;padding-right:1.6px;"><span class="sx" style="transform:scaleX(0.9);transform-origin:100% 50%;">4</span></div>
<div class="t" style="left:558.10px;top:199.69px;width:32.90px;height:16.59px;line-height:16.59px;font-size:9.5px;text-align:right;color:#000;padding-right:1.6px;"><span class="sx" style="transform:scaleX(0.9);transform-origin:100% 50%;">0</span></div>
<div class="t" style="left:623.90px;top:199.69px;width:33.60px;height:16.59px;line-height:16.59px;font-size:9.5px;text-align:right;color:#000;padding-right:1.6px;"><span class="sx" style="transform:scaleX(0.9);transform-origin:100% 50%;">0</span></div>
<div class="t" style="left:657.50px;top:199.69px;width:38.10px;height:16.59px;line-height:16.59px;font-size:9.4px;text-align:center;color:#000;"><span class="sx" style="transform:scaleX(0.93);transform-origin:50% 50%;">2.86</span></div>
<div class="t" style="left:695.60px;top:199.69px;width:43.00px;height:16.59px;line-height:16.59px;font-size:9.4px;text-align:center;color:#000;"><span class="sx" style="transform:scaleX(0.93);transform-origin:50% 50%;">2.97</span></div>
<div class="t" style="left:738.60px;top:199.69px;width:36.60px;height:16.59px;line-height:16.59px;font-size:9.4px;text-align:center;color:#000;"><span class="sx" style="transform:scaleX(0.93);transform-origin:50% 50%;">2.44</span></div>
<div class="t" style="left:63.40px;top:216.28px;width:36.30px;height:16.59px;line-height:16.59px;font-size:9.5px;text-align:center;color:#000;"><span class="sx" style="transform:scaleX(0.9);transform-origin:50% 50%;">6</span></div>
<div class="t" style="left:99.70px;top:215.28px;width:326.30px;height:16.59px;line-height:16.59px;font-size:8.3px;text-align:left;color:#000;padding-left:2px;">あなたは授業中や授業外の学習で、授業内容を理解しようと努めましたか。</div>
<div class="t" style="left:426.00px;top:216.28px;width:33.40px;height:16.59px;line-height:16.59px;font-size:9.5px;text-align:right;color:#000;padding-right:1.6px;"><span class="sx" style="transform:scaleX(0.9);transform-origin:100% 50%;">6</span></div>
<div class="t" style="left:459.40px;top:216.28px;width:33.00px;height:16.59px;line-height:16.59px;font-size:9.5px;text-align:right;color:#000;padding-right:1.6px;"><span class="sx" style="transform:scaleX(0.9);transform-origin:100% 50%;">1</span></div>
<div class="t" style="left:492.40px;top:216.28px;width:33.30px;height:16.59px;line-height:16.59px;font-size:9.5px;text-align:right;color:#000;padding-right:1.6px;"><span class="sx" style="transform:scaleX(0.9);transform-origin:100% 50%;">0</span></div>
<div class="t" style="left:525.70px;top:216.28px;width:32.40px;height:16.59px;line-height:16.59px;font-size:9.5px;text-align:right;color:#000;padding-right:1.6px;"><span class="sx" style="transform:scaleX(0.9);transform-origin:100% 50%;">0</span></div>
<div class="t" style="left:623.90px;top:216.28px;width:33.60px;height:16.59px;line-height:16.59px;font-size:9.5px;text-align:right;color:#000;padding-right:1.6px;"><span class="sx" style="transform:scaleX(0.9);transform-origin:100% 50%;">0</span></div>
<div class="t" style="left:657.50px;top:216.28px;width:38.10px;height:16.59px;line-height:16.59px;font-size:9.4px;text-align:center;color:#000;"><span class="sx" style="transform:scaleX(0.93);transform-origin:50% 50%;">3.86</span></div>
<div class="t" style="left:695.60px;top:216.28px;width:43.00px;height:16.59px;line-height:16.59px;font-size:9.4px;text-align:center;color:#000;"><span class="sx" style="transform:scaleX(0.93);transform-origin:50% 50%;">3.70</span></div>
<div class="t" style="left:738.60px;top:216.28px;width:36.60px;height:16.59px;line-height:16.59px;font-size:9.4px;text-align:center;color:#000;"><span class="sx" style="transform:scaleX(0.93);transform-origin:50% 50%;">3.52</span></div>
<div class="t" style="left:63.40px;top:232.88px;width:36.30px;height:16.59px;line-height:16.59px;font-size:9.5px;text-align:center;color:#000;"><span class="sx" style="transform:scaleX(0.9);transform-origin:50% 50%;">7</span></div>
<div class="t" style="left:99.70px;top:231.88px;width:326.30px;height:16.59px;line-height:16.59px;font-size:8.3px;text-align:left;color:#000;padding-left:2px;">この授業の学習内容や課題で分からないことがあった場合、どのように対処しましたか。</div>
<div class="t" style="left:426.00px;top:232.88px;width:33.40px;height:16.59px;line-height:16.59px;font-size:9.5px;text-align:right;color:#000;padding-right:1.6px;"><span class="sx" style="transform:scaleX(0.9);transform-origin:100% 50%;">1</span></div>
<div class="t" style="left:459.40px;top:232.88px;width:33.00px;height:16.59px;line-height:16.59px;font-size:9.5px;text-align:right;color:#000;padding-right:1.6px;"><span class="sx" style="transform:scaleX(0.9);transform-origin:100% 50%;">1</span></div>
<div class="t" style="left:492.40px;top:232.88px;width:33.30px;height:16.59px;line-height:16.59px;font-size:9.5px;text-align:right;color:#000;padding-right:1.6px;"><span class="sx" style="transform:scaleX(0.9);transform-origin:100% 50%;">5</span></div>
<div class="t" style="left:525.70px;top:232.88px;width:32.40px;height:16.59px;line-height:16.59px;font-size:9.5px;text-align:right;color:#000;padding-right:1.6px;"><span class="sx" style="transform:scaleX(0.9);transform-origin:100% 50%;">0</span></div>
<div class="t" style="left:558.10px;top:232.88px;width:32.90px;height:16.59px;line-height:16.59px;font-size:9.5px;text-align:right;color:#000;padding-right:1.6px;"><span class="sx" style="transform:scaleX(0.9);transform-origin:100% 50%;">0</span></div>
<div class="t" style="left:623.90px;top:232.88px;width:33.60px;height:16.59px;line-height:16.59px;font-size:9.5px;text-align:right;color:#000;padding-right:1.6px;"><span class="sx" style="transform:scaleX(0.9);transform-origin:100% 50%;">0</span></div>
<div class="t" style="left:63.40px;top:249.47px;width:36.30px;height:16.59px;line-height:16.59px;font-size:9.5px;text-align:center;color:#000;"><span class="sx" style="transform:scaleX(0.9);transform-origin:50% 50%;">8</span></div>
<div class="t" style="left:99.70px;top:248.47px;width:326.30px;height:16.59px;line-height:16.59px;font-size:8.3px;text-align:left;color:#000;padding-left:2px;">教員は十分準備して授業に臨んでいましたか。</div>
<div class="t" style="left:426.00px;top:249.47px;width:33.40px;height:16.59px;line-height:16.59px;font-size:9.5px;text-align:right;color:#000;padding-right:1.6px;"><span class="sx" style="transform:scaleX(0.9);transform-origin:100% 50%;">3</span></div>
<div class="t" style="left:459.40px;top:249.47px;width:33.00px;height:16.59px;line-height:16.59px;font-size:9.5px;text-align:right;color:#000;padding-right:1.6px;"><span class="sx" style="transform:scaleX(0.9);transform-origin:100% 50%;">2</span></div>
<div class="t" style="left:492.40px;top:249.47px;width:33.30px;height:16.59px;line-height:16.59px;font-size:9.5px;text-align:right;color:#000;padding-right:1.6px;"><span class="sx" style="transform:scaleX(0.9);transform-origin:100% 50%;">2</span></div>
<div class="t" style="left:525.70px;top:249.47px;width:32.40px;height:16.59px;line-height:16.59px;font-size:9.5px;text-align:right;color:#000;padding-right:1.6px;"><span class="sx" style="transform:scaleX(0.9);transform-origin:100% 50%;">0</span></div>
<div class="t" style="left:623.90px;top:249.47px;width:33.60px;height:16.59px;line-height:16.59px;font-size:9.5px;text-align:right;color:#000;padding-right:1.6px;"><span class="sx" style="transform:scaleX(0.9);transform-origin:100% 50%;">0</span></div>
<div class="t" style="left:657.50px;top:249.47px;width:38.10px;height:16.59px;line-height:16.59px;font-size:9.4px;text-align:center;color:#000;"><span class="sx" style="transform:scaleX(0.93);transform-origin:50% 50%;">3.14</span></div>
<div class="t" style="left:695.60px;top:249.47px;width:43.00px;height:16.59px;line-height:16.59px;font-size:9.4px;text-align:center;color:#000;"><span class="sx" style="transform:scaleX(0.93);transform-origin:50% 50%;">3.73</span></div>
<div class="t" style="left:738.60px;top:249.47px;width:36.60px;height:16.59px;line-height:16.59px;font-size:9.4px;text-align:center;color:#000;"><span class="sx" style="transform:scaleX(0.93);transform-origin:50% 50%;">3.65</span></div>
<div class="t" style="left:63.40px;top:266.07px;width:36.30px;height:16.59px;line-height:16.59px;font-size:9.5px;text-align:center;color:#000;"><span class="sx" style="transform:scaleX(0.9);transform-origin:50% 50%;">9</span></div>
<div class="t" style="left:99.70px;top:265.07px;width:326.30px;height:16.59px;line-height:16.59px;font-size:8.3px;text-align:left;color:#000;padding-left:2px;">教員の説明の仕方は分かりやすかったですか。</div>
<div class="t" style="left:426.00px;top:266.07px;width:33.40px;height:16.59px;line-height:16.59px;font-size:9.5px;text-align:right;color:#000;padding-right:1.6px;"><span class="sx" style="transform:scaleX(0.9);transform-origin:100% 50%;">0</span></div>
<div class="t" style="left:459.40px;top:266.07px;width:33.00px;height:16.59px;line-height:16.59px;font-size:9.5px;text-align:right;color:#000;padding-right:1.6px;"><span class="sx" style="transform:scaleX(0.9);transform-origin:100% 50%;">4</span></div>
<div class="t" style="left:492.40px;top:266.07px;width:33.30px;height:16.59px;line-height:16.59px;font-size:9.5px;text-align:right;color:#000;padding-right:1.6px;"><span class="sx" style="transform:scaleX(0.9);transform-origin:100% 50%;">0</span></div>
<div class="t" style="left:525.70px;top:266.07px;width:32.40px;height:16.59px;line-height:16.59px;font-size:9.5px;text-align:right;color:#000;padding-right:1.6px;"><span class="sx" style="transform:scaleX(0.9);transform-origin:100% 50%;">3</span></div>
<div class="t" style="left:623.90px;top:266.07px;width:33.60px;height:16.59px;line-height:16.59px;font-size:9.5px;text-align:right;color:#000;padding-right:1.6px;"><span class="sx" style="transform:scaleX(0.9);transform-origin:100% 50%;">0</span></div>
<div class="t" style="left:657.50px;top:266.07px;width:38.10px;height:16.59px;line-height:16.59px;font-size:9.4px;text-align:center;color:#000;"><span class="sx" style="transform:scaleX(0.93);transform-origin:50% 50%;">2.14</span></div>
<div class="t" style="left:695.60px;top:266.07px;width:43.00px;height:16.59px;line-height:16.59px;font-size:9.4px;text-align:center;color:#000;"><span class="sx" style="transform:scaleX(0.93);transform-origin:50% 50%;">3.64</span></div>
<div class="t" style="left:738.60px;top:266.07px;width:36.60px;height:16.59px;line-height:16.59px;font-size:9.4px;text-align:center;color:#000;"><span class="sx" style="transform:scaleX(0.93);transform-origin:50% 50%;">3.53</span></div>
<div class="t" style="left:63.40px;top:282.66px;width:36.30px;height:16.60px;line-height:16.60px;font-size:9.5px;text-align:center;color:#000;"><span class="sx" style="transform:scaleX(0.9);transform-origin:50% 50%;">10</span></div>
<div class="t" style="left:99.70px;top:281.66px;width:326.30px;height:16.60px;line-height:16.60px;font-size:8.3px;text-align:left;color:#000;padding-left:2px;">教員の声や話し方は聞き取りやすかったですか。</div>
<div class="t" style="left:426.00px;top:282.66px;width:33.40px;height:16.60px;line-height:16.60px;font-size:9.5px;text-align:right;color:#000;padding-right:1.6px;"><span class="sx" style="transform:scaleX(0.9);transform-origin:100% 50%;">1</span></div>
<div class="t" style="left:459.40px;top:282.66px;width:33.00px;height:16.60px;line-height:16.60px;font-size:9.5px;text-align:right;color:#000;padding-right:1.6px;"><span class="sx" style="transform:scaleX(0.9);transform-origin:100% 50%;">1</span></div>
<div class="t" style="left:492.40px;top:282.66px;width:33.30px;height:16.60px;line-height:16.60px;font-size:9.5px;text-align:right;color:#000;padding-right:1.6px;"><span class="sx" style="transform:scaleX(0.9);transform-origin:100% 50%;">2</span></div>
<div class="t" style="left:525.70px;top:282.66px;width:32.40px;height:16.60px;line-height:16.60px;font-size:9.5px;text-align:right;color:#000;padding-right:1.6px;"><span class="sx" style="transform:scaleX(0.9);transform-origin:100% 50%;">3</span></div>
<div class="t" style="left:623.90px;top:282.66px;width:33.60px;height:16.60px;line-height:16.60px;font-size:9.5px;text-align:right;color:#000;padding-right:1.6px;"><span class="sx" style="transform:scaleX(0.9);transform-origin:100% 50%;">0</span></div>
<div class="t" style="left:657.50px;top:282.66px;width:38.10px;height:16.60px;line-height:16.60px;font-size:9.4px;text-align:center;color:#000;"><span class="sx" style="transform:scaleX(0.93);transform-origin:50% 50%;">2.00</span></div>
<div class="t" style="left:695.60px;top:282.66px;width:43.00px;height:16.60px;line-height:16.60px;font-size:9.4px;text-align:center;color:#000;"><span class="sx" style="transform:scaleX(0.93);transform-origin:50% 50%;">3.71</span></div>
<div class="t" style="left:738.60px;top:282.66px;width:36.60px;height:16.60px;line-height:16.60px;font-size:9.4px;text-align:center;color:#000;"><span class="sx" style="transform:scaleX(0.93);transform-origin:50% 50%;">3.59</span></div>
<div class="t" style="left:63.40px;top:299.26px;width:36.30px;height:16.60px;line-height:16.60px;font-size:9.5px;text-align:center;color:#000;"><span class="sx" style="transform:scaleX(0.9);transform-origin:50% 50%;">11</span></div>
<div class="t" style="left:99.70px;top:298.26px;width:326.30px;height:16.60px;line-height:16.60px;font-size:10px;text-align:left;color:#000;padding-left:2px;overflow:hidden;"><span class="sc" style="transform:scale(0.5);">板書、配付資料、スライド、DVD等の理解を助けるための工夫は効果がありましたか。（スポーツ実習は、「該当しない」を選んでください）</span></div>
<div class="t" style="left:426.00px;top:299.26px;width:33.40px;height:16.60px;line-height:16.60px;font-size:9.5px;text-align:right;color:#000;padding-right:1.6px;"><span class="sx" style="transform:scaleX(0.9);transform-origin:100% 50%;">3</span></div>
<div class="t" style="left:459.40px;top:299.26px;width:33.00px;height:16.60px;line-height:16.60px;font-size:9.5px;text-align:right;color:#000;padding-right:1.6px;"><span class="sx" style="transform:scaleX(0.9);transform-origin:100% 50%;">3</span></div>
<div class="t" style="left:492.40px;top:299.26px;width:33.30px;height:16.60px;line-height:16.60px;font-size:9.5px;text-align:right;color:#000;padding-right:1.6px;"><span class="sx" style="transform:scaleX(0.9);transform-origin:100% 50%;">0</span></div>
<div class="t" style="left:525.70px;top:299.26px;width:32.40px;height:16.60px;line-height:16.60px;font-size:9.5px;text-align:right;color:#000;padding-right:1.6px;"><span class="sx" style="transform:scaleX(0.9);transform-origin:100% 50%;">1</span></div>
<div class="t" style="left:558.10px;top:299.26px;width:32.90px;height:16.60px;line-height:16.60px;font-size:9.5px;text-align:right;color:#000;padding-right:1.6px;"><span class="sx" style="transform:scaleX(0.9);transform-origin:100% 50%;">0</span></div>
<div class="t" style="left:623.90px;top:299.26px;width:33.60px;height:16.60px;line-height:16.60px;font-size:9.5px;text-align:right;color:#000;padding-right:1.6px;"><span class="sx" style="transform:scaleX(0.9);transform-origin:100% 50%;">0</span></div>
<div class="t" style="left:657.50px;top:299.26px;width:38.10px;height:16.60px;line-height:16.60px;font-size:9.4px;text-align:center;color:#000;"><span class="sx" style="transform:scaleX(0.93);transform-origin:50% 50%;">3.14</span></div>
<div class="t" style="left:695.60px;top:299.26px;width:43.00px;height:16.60px;line-height:16.60px;font-size:9.4px;text-align:center;color:#000;"><span class="sx" style="transform:scaleX(0.93);transform-origin:50% 50%;">3.66</span></div>
<div class="t" style="left:738.60px;top:299.26px;width:36.60px;height:16.60px;line-height:16.60px;font-size:9.4px;text-align:center;color:#000;"><span class="sx" style="transform:scaleX(0.93);transform-origin:50% 50%;">3.56</span></div>
<div class="t" style="left:63.40px;top:315.86px;width:36.30px;height:16.59px;line-height:16.59px;font-size:9.5px;text-align:center;color:#000;"><span class="sx" style="transform:scaleX(0.9);transform-origin:50% 50%;">12</span></div>
<div class="t" style="left:99.70px;top:314.86px;width:326.30px;height:16.59px;line-height:16.59px;font-size:10px;text-align:left;color:#000;padding-left:2px;overflow:hidden;"><span class="sc" style="transform:scale(0.58);">教員は学生に質問や発言の機会を与えたり、課題のフィードバックをするなどして、双方向的な授業を心がけていましたか。</span></div>
<div class="t" style="left:426.00px;top:315.86px;width:33.40px;height:16.59px;line-height:16.59px;font-size:9.5px;text-align:right;color:#000;padding-right:1.6px;"><span class="sx" style="transform:scaleX(0.9);transform-origin:100% 50%;">4</span></div>
<div class="t" style="left:459.40px;top:315.86px;width:33.00px;height:16.59px;line-height:16.59px;font-size:9.5px;text-align:right;color:#000;padding-right:1.6px;"><span class="sx" style="transform:scaleX(0.9);transform-origin:100% 50%;">3</span></div>
<div class="t" style="left:492.40px;top:315.86px;width:33.30px;height:16.59px;line-height:16.59px;font-size:9.5px;text-align:right;color:#000;padding-right:1.6px;"><span class="sx" style="transform:scaleX(0.9);transform-origin:100% 50%;">0</span></div>
<div class="t" style="left:525.70px;top:315.86px;width:32.40px;height:16.59px;line-height:16.59px;font-size:9.5px;text-align:right;color:#000;padding-right:1.6px;"><span class="sx" style="transform:scaleX(0.9);transform-origin:100% 50%;">0</span></div>
<div class="t" style="left:623.90px;top:315.86px;width:33.60px;height:16.59px;line-height:16.59px;font-size:9.5px;text-align:right;color:#000;padding-right:1.6px;"><span class="sx" style="transform:scaleX(0.9);transform-origin:100% 50%;">0</span></div>
<div class="t" style="left:657.50px;top:315.86px;width:38.10px;height:16.59px;line-height:16.59px;font-size:9.4px;text-align:center;color:#000;"><span class="sx" style="transform:scaleX(0.93);transform-origin:50% 50%;">3.57</span></div>
<div class="t" style="left:695.60px;top:315.86px;width:43.00px;height:16.59px;line-height:16.59px;font-size:9.4px;text-align:center;color:#000;"><span class="sx" style="transform:scaleX(0.93);transform-origin:50% 50%;">3.76</span></div>
<div class="t" style="left:738.60px;top:315.86px;width:36.60px;height:16.59px;line-height:16.59px;font-size:9.4px;text-align:center;color:#000;"><span class="sx" style="transform:scaleX(0.93);transform-origin:50% 50%;">3.51</span></div>
<div class="t" style="left:63.40px;top:332.45px;width:36.30px;height:16.59px;line-height:16.59px;font-size:9.5px;text-align:center;color:#000;"><span class="sx" style="transform:scaleX(0.9);transform-origin:50% 50%;">13</span></div>
<div class="t" style="left:99.70px;top:331.45px;width:326.30px;height:16.59px;line-height:16.59px;font-size:8.3px;text-align:left;color:#000;padding-left:2px;">教員は良い授業環境を保つよう努めましたか。</div>
<div class="t" style="left:426.00px;top:332.45px;width:33.40px;height:16.59px;line-height:16.59px;font-size:9.5px;text-align:right;color:#000;padding-right:1.6px;"><span class="sx" style="transform:scaleX(0.9);transform-origin:100% 50%;">2</span></div>
<div class="t" style="left:459.40px;top:332.45px;width:33.00px;height:16.59px;line-height:16.59px;font-size:9.5px;text-align:right;color:#000;padding-right:1.6px;"><span class="sx" style="transform:scaleX(0.9);transform-origin:100% 50%;">2</span></div>
<div class="t" style="left:492.40px;top:332.45px;width:33.30px;height:16.59px;line-height:16.59px;font-size:9.5px;text-align:right;color:#000;padding-right:1.6px;"><span class="sx" style="transform:scaleX(0.9);transform-origin:100% 50%;">1</span></div>
<div class="t" style="left:525.70px;top:332.45px;width:32.40px;height:16.59px;line-height:16.59px;font-size:9.5px;text-align:right;color:#000;padding-right:1.6px;"><span class="sx" style="transform:scaleX(0.9);transform-origin:100% 50%;">2</span></div>
<div class="t" style="left:623.90px;top:332.45px;width:33.60px;height:16.59px;line-height:16.59px;font-size:9.5px;text-align:right;color:#000;padding-right:1.6px;"><span class="sx" style="transform:scaleX(0.9);transform-origin:100% 50%;">0</span></div>
<div class="t" style="left:657.50px;top:332.45px;width:38.10px;height:16.59px;line-height:16.59px;font-size:9.4px;text-align:center;color:#000;"><span class="sx" style="transform:scaleX(0.93);transform-origin:50% 50%;">2.57</span></div>
<div class="t" style="left:695.60px;top:332.45px;width:43.00px;height:16.59px;line-height:16.59px;font-size:9.4px;text-align:center;color:#000;"><span class="sx" style="transform:scaleX(0.93);transform-origin:50% 50%;">3.68</span></div>
<div class="t" style="left:738.60px;top:332.45px;width:36.60px;height:16.59px;line-height:16.59px;font-size:9.4px;text-align:center;color:#000;"><span class="sx" style="transform:scaleX(0.93);transform-origin:50% 50%;">3.60</span></div>
<div class="t" style="left:63.40px;top:349.04px;width:36.30px;height:16.60px;line-height:16.60px;font-size:9.5px;text-align:center;color:#000;"><span class="sx" style="transform:scaleX(0.9);transform-origin:50% 50%;">14</span></div>
<div class="t" style="left:99.70px;top:348.04px;width:326.30px;height:16.60px;line-height:16.60px;font-size:8.3px;text-align:left;color:#000;padding-left:2px;">この授業はシラバスの内容を踏まえたものとなっていましたか。</div>
<div class="t" style="left:426.00px;top:349.04px;width:33.40px;height:16.60px;line-height:16.60px;font-size:9.5px;text-align:right;color:#000;padding-right:1.6px;"><span class="sx" style="transform:scaleX(0.9);transform-origin:100% 50%;">3</span></div>
<div class="t" style="left:459.40px;top:349.04px;width:33.00px;height:16.60px;line-height:16.60px;font-size:9.5px;text-align:right;color:#000;padding-right:1.6px;"><span class="sx" style="transform:scaleX(0.9);transform-origin:100% 50%;">3</span></div>
<div class="t" style="left:492.40px;top:349.04px;width:33.30px;height:16.60px;line-height:16.60px;font-size:9.5px;text-align:right;color:#000;padding-right:1.6px;"><span class="sx" style="transform:scaleX(0.9);transform-origin:100% 50%;">1</span></div>
<div class="t" style="left:525.70px;top:349.04px;width:32.40px;height:16.60px;line-height:16.60px;font-size:9.5px;text-align:right;color:#000;padding-right:1.6px;"><span class="sx" style="transform:scaleX(0.9);transform-origin:100% 50%;">0</span></div>
<div class="t" style="left:623.90px;top:349.04px;width:33.60px;height:16.60px;line-height:16.60px;font-size:9.5px;text-align:right;color:#000;padding-right:1.6px;"><span class="sx" style="transform:scaleX(0.9);transform-origin:100% 50%;">0</span></div>
<div class="t" style="left:657.50px;top:349.04px;width:38.10px;height:16.60px;line-height:16.60px;font-size:9.4px;text-align:center;color:#000;"><span class="sx" style="transform:scaleX(0.93);transform-origin:50% 50%;">3.29</span></div>
<div class="t" style="left:695.60px;top:349.04px;width:43.00px;height:16.60px;line-height:16.60px;font-size:9.4px;text-align:center;color:#000;"><span class="sx" style="transform:scaleX(0.93);transform-origin:50% 50%;">3.67</span></div>
<div class="t" style="left:738.60px;top:349.04px;width:36.60px;height:16.60px;line-height:16.60px;font-size:9.4px;text-align:center;color:#000;"><span class="sx" style="transform:scaleX(0.93);transform-origin:50% 50%;">3.59</span></div>
<div class="t" style="left:63.40px;top:365.64px;width:36.30px;height:16.60px;line-height:16.60px;font-size:9.5px;text-align:center;color:#000;"><span class="sx" style="transform:scaleX(0.9);transform-origin:50% 50%;">15</span></div>
<div class="t" style="left:99.70px;top:364.64px;width:326.30px;height:16.60px;line-height:16.60px;font-size:8.3px;text-align:left;color:#000;padding-left:2px;">授業内容は理解できましたか。</div>
<div class="t" style="left:426.00px;top:365.64px;width:33.40px;height:16.60px;line-height:16.60px;font-size:9.5px;text-align:right;color:#000;padding-right:1.6px;"><span class="sx" style="transform:scaleX(0.9);transform-origin:100% 50%;">2</span></div>
<div class="t" style="left:459.40px;top:365.64px;width:33.00px;height:16.60px;line-height:16.60px;font-size:9.5px;text-align:right;color:#000;padding-right:1.6px;"><span class="sx" style="transform:scaleX(0.9);transform-origin:100% 50%;">2</span></div>
<div class="t" style="left:492.40px;top:365.64px;width:33.30px;height:16.60px;line-height:16.60px;font-size:9.5px;text-align:right;color:#000;padding-right:1.6px;"><span class="sx" style="transform:scaleX(0.9);transform-origin:100% 50%;">2</span></div>
<div class="t" style="left:525.70px;top:365.64px;width:32.40px;height:16.60px;line-height:16.60px;font-size:9.5px;text-align:right;color:#000;padding-right:1.6px;"><span class="sx" style="transform:scaleX(0.9);transform-origin:100% 50%;">1</span></div>
<div class="t" style="left:623.90px;top:365.64px;width:33.60px;height:16.60px;line-height:16.60px;font-size:9.5px;text-align:right;color:#000;padding-right:1.6px;"><span class="sx" style="transform:scaleX(0.9);transform-origin:100% 50%;">0</span></div>
<div class="t" style="left:657.50px;top:365.64px;width:38.10px;height:16.60px;line-height:16.60px;font-size:9.4px;text-align:center;color:#000;"><span class="sx" style="transform:scaleX(0.93);transform-origin:50% 50%;">2.71</span></div>
<div class="t" style="left:695.60px;top:365.64px;width:43.00px;height:16.60px;line-height:16.60px;font-size:9.4px;text-align:center;color:#000;"><span class="sx" style="transform:scaleX(0.93);transform-origin:50% 50%;">3.55</span></div>
<div class="t" style="left:738.60px;top:365.64px;width:36.60px;height:16.60px;line-height:16.60px;font-size:9.4px;text-align:center;color:#000;"><span class="sx" style="transform:scaleX(0.93);transform-origin:50% 50%;">3.43</span></div>
<div class="t" style="left:63.40px;top:382.24px;width:36.30px;height:16.59px;line-height:16.59px;font-size:9.5px;text-align:center;color:#000;"><span class="sx" style="transform:scaleX(0.9);transform-origin:50% 50%;">16</span></div>
<div class="t" style="left:99.70px;top:381.24px;width:326.30px;height:16.59px;line-height:16.59px;font-size:8.3px;text-align:left;color:#000;padding-left:2px;">この授業レベルについて、適切でしたか。</div>
<div class="t" style="left:426.00px;top:382.24px;width:33.40px;height:16.59px;line-height:16.59px;font-size:9.5px;text-align:right;color:#000;padding-right:1.6px;"><span class="sx" style="transform:scaleX(0.9);transform-origin:100% 50%;">3</span></div>
<div class="t" style="left:459.40px;top:382.24px;width:33.00px;height:16.59px;line-height:16.59px;font-size:9.5px;text-align:right;color:#000;padding-right:1.6px;"><span class="sx" style="transform:scaleX(0.9);transform-origin:100% 50%;">2</span></div>
<div class="t" style="left:492.40px;top:382.24px;width:33.30px;height:16.59px;line-height:16.59px;font-size:9.5px;text-align:right;color:#000;padding-right:1.6px;"><span class="sx" style="transform:scaleX(0.9);transform-origin:100% 50%;">2</span></div>
<div class="t" style="left:525.70px;top:382.24px;width:32.40px;height:16.59px;line-height:16.59px;font-size:9.5px;text-align:right;color:#000;padding-right:1.6px;"><span class="sx" style="transform:scaleX(0.9);transform-origin:100% 50%;">0</span></div>
<div class="t" style="left:623.90px;top:382.24px;width:33.60px;height:16.59px;line-height:16.59px;font-size:9.5px;text-align:right;color:#000;padding-right:1.6px;"><span class="sx" style="transform:scaleX(0.9);transform-origin:100% 50%;">0</span></div>
<div class="t" style="left:657.50px;top:382.24px;width:38.10px;height:16.59px;line-height:16.59px;font-size:9.4px;text-align:center;color:#000;"><span class="sx" style="transform:scaleX(0.93);transform-origin:50% 50%;">3.14</span></div>
<div class="t" style="left:695.60px;top:382.24px;width:43.00px;height:16.59px;line-height:16.59px;font-size:9.4px;text-align:center;color:#000;"><span class="sx" style="transform:scaleX(0.93);transform-origin:50% 50%;">3.58</span></div>
<div class="t" style="left:738.60px;top:382.24px;width:36.60px;height:16.59px;line-height:16.59px;font-size:9.4px;text-align:center;color:#000;"><span class="sx" style="transform:scaleX(0.93);transform-origin:50% 50%;">3.49</span></div>
<div class="t" style="left:63.40px;top:398.83px;width:36.30px;height:16.59px;line-height:16.59px;font-size:9.5px;text-align:center;color:#000;"><span class="sx" style="transform:scaleX(0.9);transform-origin:50% 50%;">17</span></div>
<div class="t" style="left:99.70px;top:397.83px;width:326.30px;height:16.59px;line-height:16.59px;font-size:8.3px;text-align:left;color:#000;padding-left:2px;">この授業の進度について、適切でしたか。</div>
<div class="t" style="left:426.00px;top:398.83px;width:33.40px;height:16.59px;line-height:16.59px;font-size:9.5px;text-align:right;color:#000;padding-right:1.6px;"><span class="sx" style="transform:scaleX(0.9);transform-origin:100% 50%;">3</span></div>
<div class="t" style="left:459.40px;top:398.83px;width:33.00px;height:16.59px;line-height:16.59px;font-size:9.5px;text-align:right;color:#000;padding-right:1.6px;"><span class="sx" style="transform:scaleX(0.9);transform-origin:100% 50%;">2</span></div>
<div class="t" style="left:492.40px;top:398.83px;width:33.30px;height:16.59px;line-height:16.59px;font-size:9.5px;text-align:right;color:#000;padding-right:1.6px;"><span class="sx" style="transform:scaleX(0.9);transform-origin:100% 50%;">2</span></div>
<div class="t" style="left:525.70px;top:398.83px;width:32.40px;height:16.59px;line-height:16.59px;font-size:9.5px;text-align:right;color:#000;padding-right:1.6px;"><span class="sx" style="transform:scaleX(0.9);transform-origin:100% 50%;">0</span></div>
<div class="t" style="left:623.90px;top:398.83px;width:33.60px;height:16.59px;line-height:16.59px;font-size:9.5px;text-align:right;color:#000;padding-right:1.6px;"><span class="sx" style="transform:scaleX(0.9);transform-origin:100% 50%;">0</span></div>
<div class="t" style="left:657.50px;top:398.83px;width:38.10px;height:16.59px;line-height:16.59px;font-size:9.4px;text-align:center;color:#000;"><span class="sx" style="transform:scaleX(0.93);transform-origin:50% 50%;">3.14</span></div>
<div class="t" style="left:695.60px;top:398.83px;width:43.00px;height:16.59px;line-height:16.59px;font-size:9.4px;text-align:center;color:#000;"><span class="sx" style="transform:scaleX(0.93);transform-origin:50% 50%;">3.64</span></div>
<div class="t" style="left:738.60px;top:398.83px;width:36.60px;height:16.59px;line-height:16.59px;font-size:9.4px;text-align:center;color:#000;"><span class="sx" style="transform:scaleX(0.93);transform-origin:50% 50%;">3.57</span></div>
<div class="t" style="left:63.40px;top:415.42px;width:36.30px;height:16.60px;line-height:16.60px;font-size:9.5px;text-align:center;color:#000;"><span class="sx" style="transform:scaleX(0.9);transform-origin:50% 50%;">18</span></div>
<div class="t" style="left:99.70px;top:414.42px;width:326.30px;height:16.60px;line-height:16.60px;font-size:8.3px;text-align:left;color:#000;padding-left:2px;">授業内容について総合的に満足できましたか。</div>
<div class="t" style="left:426.00px;top:415.42px;width:33.40px;height:16.60px;line-height:16.60px;font-size:9.5px;text-align:right;color:#000;padding-right:1.6px;"><span class="sx" style="transform:scaleX(0.9);transform-origin:100% 50%;">2</span></div>
<div class="t" style="left:459.40px;top:415.42px;width:33.00px;height:16.60px;line-height:16.60px;font-size:9.5px;text-align:right;color:#000;padding-right:1.6px;"><span class="sx" style="transform:scaleX(0.9);transform-origin:100% 50%;">2</span></div>
<div class="t" style="left:492.40px;top:415.42px;width:33.30px;height:16.60px;line-height:16.60px;font-size:9.5px;text-align:right;color:#000;padding-right:1.6px;"><span class="sx" style="transform:scaleX(0.9);transform-origin:100% 50%;">1</span></div>
<div class="t" style="left:525.70px;top:415.42px;width:32.40px;height:16.60px;line-height:16.60px;font-size:9.5px;text-align:right;color:#000;padding-right:1.6px;"><span class="sx" style="transform:scaleX(0.9);transform-origin:100% 50%;">2</span></div>
<div class="t" style="left:623.90px;top:415.42px;width:33.60px;height:16.60px;line-height:16.60px;font-size:9.5px;text-align:right;color:#000;padding-right:1.6px;"><span class="sx" style="transform:scaleX(0.9);transform-origin:100% 50%;">0</span></div>
<div class="t" style="left:657.50px;top:415.42px;width:38.10px;height:16.60px;line-height:16.60px;font-size:9.4px;text-align:center;color:#000;"><span class="sx" style="transform:scaleX(0.93);transform-origin:50% 50%;">2.57</span></div>
<div class="t" style="left:695.60px;top:415.42px;width:43.00px;height:16.60px;line-height:16.60px;font-size:9.4px;text-align:center;color:#000;"><span class="sx" style="transform:scaleX(0.93);transform-origin:50% 50%;">3.60</span></div>
<div class="t" style="left:738.60px;top:415.42px;width:36.60px;height:16.60px;line-height:16.60px;font-size:9.4px;text-align:center;color:#000;"><span class="sx" style="transform:scaleX(0.93);transform-origin:50% 50%;">3.50</span></div>
<div class="t" style="left:63.40px;top:432.02px;width:36.30px;height:16.60px;line-height:16.60px;font-size:9.5px;text-align:center;color:#000;"><span class="sx" style="transform:scaleX(0.9);transform-origin:50% 50%;">19</span></div>
<div class="t" style="left:99.70px;top:431.02px;width:326.30px;height:16.60px;line-height:16.60px;font-size:8.3px;text-align:left;color:#000;padding-left:2px;">演習であなたはどんな技術を習得しましたか。（複数回答可）</div>
<div class="t" style="left:426.00px;top:432.02px;width:33.40px;height:16.60px;line-height:16.60px;font-size:9.5px;text-align:right;color:#000;padding-right:1.6px;"><span class="sx" style="transform:scaleX(0.9);transform-origin:100% 50%;">0</span></div>
<div class="t" style="left:459.40px;top:432.02px;width:33.00px;height:16.60px;line-height:16.60px;font-size:9.5px;text-align:right;color:#000;padding-right:1.6px;"><span class="sx" style="transform:scaleX(0.9);transform-origin:100% 50%;">0</span></div>
<div class="t" style="left:492.40px;top:432.02px;width:33.30px;height:16.60px;line-height:16.60px;font-size:9.5px;text-align:right;color:#000;padding-right:1.6px;"><span class="sx" style="transform:scaleX(0.9);transform-origin:100% 50%;">0</span></div>
<div class="t" style="left:525.70px;top:432.02px;width:32.40px;height:16.60px;line-height:16.60px;font-size:9.5px;text-align:right;color:#000;padding-right:1.6px;"><span class="sx" style="transform:scaleX(0.9);transform-origin:100% 50%;">0</span></div>
<div class="t" style="left:558.10px;top:432.02px;width:32.90px;height:16.60px;line-height:16.60px;font-size:9.5px;text-align:right;color:#000;padding-right:1.6px;"><span class="sx" style="transform:scaleX(0.9);transform-origin:100% 50%;">0</span></div>
<div class="t" style="left:591.00px;top:432.02px;width:32.90px;height:16.60px;line-height:16.60px;font-size:9.5px;text-align:right;color:#000;padding-right:1.6px;"><span class="sx" style="transform:scaleX(0.9);transform-origin:100% 50%;">0</span></div>
<div class="t" style="left:623.90px;top:432.02px;width:33.60px;height:16.60px;line-height:16.60px;font-size:9.5px;text-align:right;color:#000;padding-right:1.6px;"><span class="sx" style="transform:scaleX(0.9);transform-origin:100% 50%;">7</span></div>
<div class="t" style="left:63.40px;top:448.62px;width:36.30px;height:16.59px;line-height:16.59px;font-size:9.5px;text-align:center;color:#000;"><span class="sx" style="transform:scaleX(0.9);transform-origin:50% 50%;">22</span></div>
<div class="t" style="left:99.70px;top:447.62px;width:326.30px;height:16.59px;line-height:16.59px;font-size:8.3px;text-align:left;color:#000;padding-left:2px;">この授業を通して、語学力が向上しましたか。</div>
<div class="t" style="left:426.00px;top:448.62px;width:33.40px;height:16.59px;line-height:16.59px;font-size:9.5px;text-align:right;color:#000;padding-right:1.6px;"><span class="sx" style="transform:scaleX(0.9);transform-origin:100% 50%;">2</span></div>
<div class="t" style="left:459.40px;top:448.62px;width:33.00px;height:16.59px;line-height:16.59px;font-size:9.5px;text-align:right;color:#000;padding-right:1.6px;"><span class="sx" style="transform:scaleX(0.9);transform-origin:100% 50%;">2</span></div>
<div class="t" style="left:492.40px;top:448.62px;width:33.30px;height:16.59px;line-height:16.59px;font-size:9.5px;text-align:right;color:#000;padding-right:1.6px;"><span class="sx" style="transform:scaleX(0.9);transform-origin:100% 50%;">2</span></div>
<div class="t" style="left:525.70px;top:448.62px;width:32.40px;height:16.59px;line-height:16.59px;font-size:9.5px;text-align:right;color:#000;padding-right:1.6px;"><span class="sx" style="transform:scaleX(0.9);transform-origin:100% 50%;">0</span></div>
<div class="t" style="left:623.90px;top:448.62px;width:33.60px;height:16.59px;line-height:16.59px;font-size:9.5px;text-align:right;color:#000;padding-right:1.6px;"><span class="sx" style="transform:scaleX(0.9);transform-origin:100% 50%;">1</span></div>
<div class="t" style="left:657.50px;top:448.62px;width:38.10px;height:16.59px;line-height:16.59px;font-size:9.4px;text-align:center;color:#000;"><span class="sx" style="transform:scaleX(0.93);transform-origin:50% 50%;">3.00</span></div>
<div class="t" style="left:695.60px;top:448.62px;width:43.00px;height:16.59px;line-height:16.59px;font-size:9.4px;text-align:center;color:#000;"><span class="sx" style="transform:scaleX(0.93);transform-origin:50% 50%;">3.55</span></div>
<div class="t" style="left:738.60px;top:448.62px;width:36.60px;height:16.59px;line-height:16.59px;font-size:9.4px;text-align:center;color:#000;"><span class="sx" style="transform:scaleX(0.93);transform-origin:50% 50%;">3.55</span></div>
<div class="t" style="left:63.40px;top:465.21px;width:36.30px;height:16.59px;line-height:16.59px;font-size:9.5px;text-align:center;color:#000;"><span class="sx" style="transform:scaleX(0.9);transform-origin:50% 50%;">23</span></div>
<div class="t" style="left:99.70px;top:464.21px;width:326.30px;height:16.59px;line-height:16.59px;font-size:8.3px;text-align:left;color:#000;padding-left:2px;">教員の説明以外に、学生の練習の時間が十分に与えられていましたか。</div>
<div class="t" style="left:426.00px;top:465.21px;width:33.40px;height:16.59px;line-height:16.59px;font-size:9.5px;text-align:right;color:#000;padding-right:1.6px;"><span class="sx" style="transform:scaleX(0.9);transform-origin:100% 50%;">1</span></div>
<div class="t" style="left:459.40px;top:465.21px;width:33.00px;height:16.59px;line-height:16.59px;font-size:9.5px;text-align:right;color:#000;padding-right:1.6px;"><span class="sx" style="transform:scaleX(0.9);transform-origin:100% 50%;">2</span></div>
<div class="t" style="left:492.40px;top:465.21px;width:33.30px;height:16.59px;line-height:16.59px;font-size:9.5px;text-align:right;color:#000;padding-right:1.6px;"><span class="sx" style="transform:scaleX(0.9);transform-origin:100% 50%;">1</span></div>
<div class="t" style="left:525.70px;top:465.21px;width:32.40px;height:16.59px;line-height:16.59px;font-size:9.5px;text-align:right;color:#000;padding-right:1.6px;"><span class="sx" style="transform:scaleX(0.9);transform-origin:100% 50%;">2</span></div>
<div class="t" style="left:623.90px;top:465.21px;width:33.60px;height:16.59px;line-height:16.59px;font-size:9.5px;text-align:right;color:#000;padding-right:1.6px;"><span class="sx" style="transform:scaleX(0.9);transform-origin:100% 50%;">1</span></div>
<div class="t" style="left:657.50px;top:465.21px;width:38.10px;height:16.59px;line-height:16.59px;font-size:9.4px;text-align:center;color:#000;"><span class="sx" style="transform:scaleX(0.93);transform-origin:50% 50%;">2.33</span></div>
<div class="t" style="left:695.60px;top:465.21px;width:43.00px;height:16.59px;line-height:16.59px;font-size:9.4px;text-align:center;color:#000;"><span class="sx" style="transform:scaleX(0.93);transform-origin:50% 50%;">3.67</span></div>
<div class="t" style="left:738.60px;top:465.21px;width:36.60px;height:16.59px;line-height:16.59px;font-size:9.4px;text-align:center;color:#000;"><span class="sx" style="transform:scaleX(0.93);transform-origin:50% 50%;">3.67</span></div>
<div class="t" style="left:63.40px;top:481.80px;width:36.30px;height:16.60px;line-height:16.60px;font-size:9.5px;text-align:center;color:#000;"><span class="sx" style="transform:scaleX(0.9);transform-origin:50% 50%;">24</span></div>
<div class="t" style="left:99.70px;top:480.80px;width:326.30px;height:16.60px;line-height:16.60px;font-size:8.3px;text-align:left;color:#000;padding-left:2px;">この授業で使われた教科書の内容およびレベルは適切でしたか。</div>
<div class="t" style="left:426.00px;top:481.80px;width:33.40px;height:16.60px;line-height:16.60px;font-size:9.5px;text-align:right;color:#000;padding-right:1.6px;"><span class="sx" style="transform:scaleX(0.9);transform-origin:100% 50%;">2</span></div>
<div class="t" style="left:459.40px;top:481.80px;width:33.00px;height:16.60px;line-height:16.60px;font-size:9.5px;text-align:right;color:#000;padding-right:1.6px;"><span class="sx" style="transform:scaleX(0.9);transform-origin:100% 50%;">3</span></div>
<div class="t" style="left:492.40px;top:481.80px;width:33.30px;height:16.60px;line-height:16.60px;font-size:9.5px;text-align:right;color:#000;padding-right:1.6px;"><span class="sx" style="transform:scaleX(0.9);transform-origin:100% 50%;">1</span></div>
<div class="t" style="left:525.70px;top:481.80px;width:32.40px;height:16.60px;line-height:16.60px;font-size:9.5px;text-align:right;color:#000;padding-right:1.6px;"><span class="sx" style="transform:scaleX(0.9);transform-origin:100% 50%;">0</span></div>
<div class="t" style="left:623.90px;top:481.80px;width:33.60px;height:16.60px;line-height:16.60px;font-size:9.5px;text-align:right;color:#000;padding-right:1.6px;"><span class="sx" style="transform:scaleX(0.9);transform-origin:100% 50%;">1</span></div>
<div class="t" style="left:657.50px;top:481.80px;width:38.10px;height:16.60px;line-height:16.60px;font-size:9.4px;text-align:center;color:#000;"><span class="sx" style="transform:scaleX(0.93);transform-origin:50% 50%;">3.17</span></div>
<div class="t" style="left:695.60px;top:481.80px;width:43.00px;height:16.60px;line-height:16.60px;font-size:9.4px;text-align:center;color:#000;"><span class="sx" style="transform:scaleX(0.93);transform-origin:50% 50%;">3.59</span></div>
<div class="t" style="left:738.60px;top:481.80px;width:36.60px;height:16.60px;line-height:16.60px;font-size:9.4px;text-align:center;color:#000;"><span class="sx" style="transform:scaleX(0.93);transform-origin:50% 50%;">3.59</span></div>
<div class="t" style="left:63.40px;top:498.40px;width:36.30px;height:16.60px;line-height:16.60px;font-size:9.5px;text-align:center;color:#000;"><span class="sx" style="transform:scaleX(0.9);transform-origin:50% 50%;">25</span></div>
<div class="t" style="left:99.70px;top:497.40px;width:326.30px;height:16.60px;line-height:16.60px;font-size:8.3px;text-align:left;color:#000;padding-left:2px;">この授業の受講者数は適切でしたか。</div>
<div class="t" style="left:426.00px;top:498.40px;width:33.40px;height:16.60px;line-height:16.60px;font-size:9.5px;text-align:right;color:#000;padding-right:1.6px;"><span class="sx" style="transform:scaleX(0.9);transform-origin:100% 50%;">1</span></div>
<div class="t" style="left:459.40px;top:498.40px;width:33.00px;height:16.60px;line-height:16.60px;font-size:9.5px;text-align:right;color:#000;padding-right:1.6px;"><span class="sx" style="transform:scaleX(0.9);transform-origin:100% 50%;">5</span></div>
<div class="t" style="left:492.40px;top:498.40px;width:33.30px;height:16.60px;line-height:16.60px;font-size:9.5px;text-align:right;color:#000;padding-right:1.6px;"><span class="sx" style="transform:scaleX(0.9);transform-origin:100% 50%;">0</span></div>
<div class="t" style="left:623.90px;top:498.40px;width:33.60px;height:16.60px;line-height:16.60px;font-size:9.5px;text-align:right;color:#000;padding-right:1.6px;"><span class="sx" style="transform:scaleX(0.9);transform-origin:100% 50%;">1</span></div>
<div class="t" style="left:657.50px;top:498.40px;width:38.10px;height:16.60px;line-height:16.60px;font-size:9.4px;text-align:center;color:#000;"><span class="sx" style="transform:scaleX(0.93);transform-origin:50% 50%;">2.17</span></div>
<div class="t" style="left:695.60px;top:498.40px;width:43.00px;height:16.60px;line-height:16.60px;font-size:9.4px;text-align:center;color:#000;"><span class="sx" style="transform:scaleX(0.93);transform-origin:50% 50%;">2.08</span></div>
<div class="t" style="left:738.60px;top:498.40px;width:36.60px;height:16.60px;line-height:16.60px;font-size:9.4px;text-align:center;color:#000;"><span class="sx" style="transform:scaleX(0.93);transform-origin:50% 50%;">2.08</span></div>
<div class="t" style="left:63.40px;top:515.00px;width:36.30px;height:16.59px;line-height:16.59px;font-size:9.5px;text-align:center;color:#000;"><span class="sx" style="transform:scaleX(0.9);transform-origin:50% 50%;">26</span></div>
<div class="t" style="left:99.70px;top:514.00px;width:326.30px;height:16.59px;line-height:16.59px;font-size:8.3px;text-align:left;color:#000;padding-left:2px;">受講したスポーツが上手にできるようになったと思いますか。</div>
<div class="t" style="left:426.00px;top:515.00px;width:33.40px;height:16.59px;line-height:16.59px;font-size:9.5px;text-align:right;color:#000;padding-right:1.6px;"><span class="sx" style="transform:scaleX(0.9);transform-origin:100% 50%;">0</span></div>
<div class="t" style="left:459.40px;top:515.00px;width:33.00px;height:16.59px;line-height:16.59px;font-size:9.5px;text-align:right;color:#000;padding-right:1.6px;"><span class="sx" style="transform:scaleX(0.9);transform-origin:100% 50%;">0</span></div>
<div class="t" style="left:492.40px;top:515.00px;width:33.30px;height:16.59px;line-height:16.59px;font-size:9.5px;text-align:right;color:#000;padding-right:1.6px;"><span class="sx" style="transform:scaleX(0.9);transform-origin:100% 50%;">0</span></div>
<div class="t" style="left:525.70px;top:515.00px;width:32.40px;height:16.59px;line-height:16.59px;font-size:9.5px;text-align:right;color:#000;padding-right:1.6px;"><span class="sx" style="transform:scaleX(0.9);transform-origin:100% 50%;">0</span></div>
<div class="t" style="left:623.90px;top:515.00px;width:33.60px;height:16.59px;line-height:16.59px;font-size:9.5px;text-align:right;color:#000;padding-right:1.6px;"><span class="sx" style="transform:scaleX(0.9);transform-origin:100% 50%;">7</span></div>
<div class="t" style="left:657.50px;top:515.00px;width:38.10px;height:16.59px;line-height:16.59px;font-size:9.4px;text-align:center;color:#000;"><span class="sx" style="transform:scaleX(0.93);transform-origin:50% 50%;">－</span></div>
<div class="t" style="left:695.60px;top:515.00px;width:43.00px;height:16.59px;line-height:16.59px;font-size:9.4px;text-align:center;color:#000;"><span class="sx" style="transform:scaleX(0.93);transform-origin:50% 50%;">－</span></div>
<div class="t" style="left:738.60px;top:515.00px;width:36.60px;height:16.59px;line-height:16.59px;font-size:9.4px;text-align:center;color:#000;"><span class="sx" style="transform:scaleX(0.93);transform-origin:50% 50%;">3.26</span></div>
<div class="t" style="left:63.40px;top:531.59px;width:36.30px;height:16.60px;line-height:16.60px;font-size:9.5px;text-align:center;color:#000;"><span class="sx" style="transform:scaleX(0.9);transform-origin:50% 50%;">27</span></div>
<div class="t" style="left:99.70px;top:530.59px;width:326.30px;height:16.60px;line-height:16.60px;font-size:8.3px;text-align:left;color:#000;padding-left:2px;">自分の健康や体力に気をつけるようになったと思いますか。</div>
<div class="t" style="left:426.00px;top:531.59px;width:33.40px;height:16.60px;line-height:16.60px;font-size:9.5px;text-align:right;color:#000;padding-right:1.6px;"><span class="sx" style="transform:scaleX(0.9);transform-origin:100% 50%;">0</span></div>
<div class="t" style="left:459.40px;top:531.59px;width:33.00px;height:16.60px;line-height:16.60px;font-size:9.5px;text-align:right;color:#000;padding-right:1.6px;"><span class="sx" style="transform:scaleX(0.9);transform-origin:100% 50%;">0</span></div>
<div class="t" style="left:492.40px;top:531.59px;width:33.30px;height:16.60px;line-height:16.60px;font-size:9.5px;text-align:right;color:#000;padding-right:1.6px;"><span class="sx" style="transform:scaleX(0.9);transform-origin:100% 50%;">0</span></div>
<div class="t" style="left:525.70px;top:531.59px;width:32.40px;height:16.60px;line-height:16.60px;font-size:9.5px;text-align:right;color:#000;padding-right:1.6px;"><span class="sx" style="transform:scaleX(0.9);transform-origin:100% 50%;">0</span></div>
<div class="t" style="left:623.90px;top:531.59px;width:33.60px;height:16.60px;line-height:16.60px;font-size:9.5px;text-align:right;color:#000;padding-right:1.6px;"><span class="sx" style="transform:scaleX(0.9);transform-origin:100% 50%;">7</span></div>
<div class="t" style="left:657.50px;top:531.59px;width:38.10px;height:16.60px;line-height:16.60px;font-size:9.4px;text-align:center;color:#000;"><span class="sx" style="transform:scaleX(0.93);transform-origin:50% 50%;">－</span></div>
<div class="t" style="left:695.60px;top:531.59px;width:43.00px;height:16.60px;line-height:16.60px;font-size:9.4px;text-align:center;color:#000;"><span class="sx" style="transform:scaleX(0.93);transform-origin:50% 50%;">－</span></div>
<div class="t" style="left:738.60px;top:531.59px;width:36.60px;height:16.60px;line-height:16.60px;font-size:9.4px;text-align:center;color:#000;"><span class="sx" style="transform:scaleX(0.93);transform-origin:50% 50%;">3.38</span></div>
<div class="t" style="left:63.40px;top:548.18px;width:36.30px;height:16.60px;line-height:16.60px;font-size:9.5px;text-align:center;color:#000;"><span class="sx" style="transform:scaleX(0.9);transform-origin:50% 50%;">28</span></div>
<div class="t" style="left:99.70px;top:547.18px;width:326.30px;height:16.60px;line-height:16.60px;font-size:8.3px;text-align:left;color:#000;padding-left:2px;">スポーツや健康に関して新たな知識や情報を得ることができましたか。</div>
<div class="t" style="left:426.00px;top:548.18px;width:33.40px;height:16.60px;line-height:16.60px;font-size:9.5px;text-align:right;color:#000;padding-right:1.6px;"><span class="sx" style="transform:scaleX(0.9);transform-origin:100% 50%;">0</span></div>
<div class="t" style="left:459.40px;top:548.18px;width:33.00px;height:16.60px;line-height:16.60px;font-size:9.5px;text-align:right;color:#000;padding-right:1.6px;"><span class="sx" style="transform:scaleX(0.9);transform-origin:100% 50%;">0</span></div>
<div class="t" style="left:492.40px;top:548.18px;width:33.30px;height:16.60px;line-height:16.60px;font-size:9.5px;text-align:right;color:#000;padding-right:1.6px;"><span class="sx" style="transform:scaleX(0.9);transform-origin:100% 50%;">0</span></div>
<div class="t" style="left:525.70px;top:548.18px;width:32.40px;height:16.60px;line-height:16.60px;font-size:9.5px;text-align:right;color:#000;padding-right:1.6px;"><span class="sx" style="transform:scaleX(0.9);transform-origin:100% 50%;">0</span></div>
<div class="t" style="left:623.90px;top:548.18px;width:33.60px;height:16.60px;line-height:16.60px;font-size:9.5px;text-align:right;color:#000;padding-right:1.6px;"><span class="sx" style="transform:scaleX(0.9);transform-origin:100% 50%;">7</span></div>
<div class="t" style="left:657.50px;top:548.18px;width:38.10px;height:16.60px;line-height:16.60px;font-size:9.4px;text-align:center;color:#000;"><span class="sx" style="transform:scaleX(0.93);transform-origin:50% 50%;">－</span></div>
<div class="t" style="left:695.60px;top:548.18px;width:43.00px;height:16.60px;line-height:16.60px;font-size:9.4px;text-align:center;color:#000;"><span class="sx" style="transform:scaleX(0.93);transform-origin:50% 50%;">－</span></div>
<div class="t" style="left:738.60px;top:548.18px;width:36.60px;height:16.60px;line-height:16.60px;font-size:9.4px;text-align:center;color:#000;"><span class="sx" style="transform:scaleX(0.93);transform-origin:50% 50%;">3.33</span></div>
<div class="t" style="left:63.40px;top:564.78px;width:36.30px;height:16.60px;line-height:16.60px;font-size:9.5px;text-align:center;color:#000;"><span class="sx" style="transform:scaleX(0.9);transform-origin:50% 50%;">29</span></div>
<div class="t" style="left:99.70px;top:563.78px;width:326.30px;height:16.60px;line-height:16.60px;font-size:8.3px;text-align:left;color:#000;padding-left:2px;">一緒にスポーツすることを通じて交流を深めることができましたか。</div>
<div class="t" style="left:426.00px;top:564.78px;width:33.40px;height:16.60px;line-height:16.60px;font-size:9.5px;text-align:right;color:#000;padding-right:1.6px;"><span class="sx" style="transform:scaleX(0.9);transform-origin:100% 50%;">0</span></div>
<div class="t" style="left:459.40px;top:564.78px;width:33.00px;height:16.60px;line-height:16.60px;font-size:9.5px;text-align:right;color:#000;padding-right:1.6px;"><span class="sx" style="transform:scaleX(0.9);transform-origin:100% 50%;">0</span></div>
<div class="t" style="left:492.40px;top:564.78px;width:33.30px;height:16.60px;line-height:16.60px;font-size:9.5px;text-align:right;color:#000;padding-right:1.6px;"><span class="sx" style="transform:scaleX(0.9);transform-origin:100% 50%;">0</span></div>
<div class="t" style="left:525.70px;top:564.78px;width:32.40px;height:16.60px;line-height:16.60px;font-size:9.5px;text-align:right;color:#000;padding-right:1.6px;"><span class="sx" style="transform:scaleX(0.9);transform-origin:100% 50%;">0</span></div>
<div class="t" style="left:623.90px;top:564.78px;width:33.60px;height:16.60px;line-height:16.60px;font-size:9.5px;text-align:right;color:#000;padding-right:1.6px;"><span class="sx" style="transform:scaleX(0.9);transform-origin:100% 50%;">7</span></div>
<div class="t" style="left:657.50px;top:564.78px;width:38.10px;height:16.60px;line-height:16.60px;font-size:9.4px;text-align:center;color:#000;"><span class="sx" style="transform:scaleX(0.93);transform-origin:50% 50%;">－</span></div>
<div class="t" style="left:695.60px;top:564.78px;width:43.00px;height:16.60px;line-height:16.60px;font-size:9.4px;text-align:center;color:#000;"><span class="sx" style="transform:scaleX(0.93);transform-origin:50% 50%;">－</span></div>
<div class="t" style="left:738.60px;top:564.78px;width:36.60px;height:16.60px;line-height:16.60px;font-size:9.4px;text-align:center;color:#000;"><span class="sx" style="transform:scaleX(0.93);transform-origin:50% 50%;">3.45</span></div>
<div class="t" style="left:24.00px;top:867.00px;width:96.00px;height:13.00px;line-height:13.00px;font-size:9.8px;text-align:left;color:#000;padding-left:2px;">選択肢一覧</div>
<div class="t" style="left:23.90px;top:878.60px;width:39.50px;height:14.40px;line-height:14.40px;font-size:9.2px;text-align:center;color:#fff;">設問№</div>
<div class="t" style="left:63.40px;top:878.60px;width:145.10px;height:14.40px;line-height:14.40px;font-size:9px;text-align:center;color:#fff;">A</div>
<div class="t" style="left:208.50px;top:878.60px;width:145.70px;height:14.40px;line-height:14.40px;font-size:9px;text-align:center;color:#fff;">B</div>
<div class="t" style="left:354.20px;top:878.60px;width:105.20px;height:14.40px;line-height:14.40px;font-size:9px;text-align:center;color:#fff;">C</div>
<div class="t" style="left:459.40px;top:878.60px;width:98.70px;height:14.40px;line-height:14.40px;font-size:9px;text-align:center;color:#fff;">D</div>
<div class="t" style="left:558.10px;top:878.60px;width:99.40px;height:14.40px;line-height:14.40px;font-size:9px;text-align:center;color:#fff;">E</div>
<div class="t" style="left:657.50px;top:878.60px;width:117.70px;height:14.40px;line-height:14.40px;font-size:9px;text-align:center;color:#fff;">F</div>
<div class="t" style="left:23.90px;top:894.00px;width:39.50px;height:14.40px;line-height:14.40px;font-size:9.5px;text-align:center;color:#000;"><span class="sx" style="transform:scaleX(0.9);transform-origin:50% 50%;">3</span></div>
<div class="t" style="left:63.40px;top:893.00px;width:145.10px;height:14.40px;line-height:14.40px;font-size:7.8px;text-align:left;color:#000;padding-left:2px;">必修または必要な単位を満たすため</div>
<div class="t" style="left:208.50px;top:893.00px;width:145.70px;height:14.40px;line-height:14.40px;font-size:7.8px;text-align:left;color:#000;padding-left:2px;">資格や就活に役立てるため</div>
<div class="t" style="left:354.20px;top:893.00px;width:105.20px;height:14.40px;line-height:14.40px;font-size:7.8px;text-align:left;color:#000;padding-left:2px;">シラバスを見て関心を持った</div>
<div class="t" style="left:459.40px;top:893.00px;width:98.70px;height:14.40px;line-height:14.40px;font-size:7.8px;text-align:left;color:#000;padding-left:2px;">良い授業だと人から聞いた</div>
<div class="t" style="left:558.10px;top:893.00px;width:99.40px;height:14.40px;line-height:14.40px;font-size:7.8px;text-align:left;color:#000;padding-left:2px;">その他</div>
<div class="t" style="left:23.90px;top:908.40px;width:39.50px;height:14.30px;line-height:14.30px;font-size:9.5px;text-align:center;color:#000;"><span class="sx" style="transform:scaleX(0.9);transform-origin:50% 50%;">4</span></div>
<div class="t" style="left:63.40px;top:907.40px;width:145.10px;height:14.30px;line-height:14.30px;font-size:7.8px;text-align:left;color:#000;padding-left:2px;">全部出席</div>
<div class="t" style="left:208.50px;top:907.40px;width:145.70px;height:14.30px;line-height:14.30px;font-size:7.8px;text-align:left;color:#000;padding-left:2px;">1–2回欠席</div>
<div class="t" style="left:354.20px;top:907.40px;width:105.20px;height:14.30px;line-height:14.30px;font-size:7.8px;text-align:left;color:#000;padding-left:2px;">3–4回欠席</div>
<div class="t" style="left:459.40px;top:907.40px;width:98.70px;height:14.30px;line-height:14.30px;font-size:7.8px;text-align:left;color:#000;padding-left:2px;">5回以上欠席</div>
<div class="t" style="left:23.90px;top:922.70px;width:39.50px;height:14.30px;line-height:14.30px;font-size:9.5px;text-align:center;color:#000;"><span class="sx" style="transform:scaleX(0.9);transform-origin:50% 50%;">5</span></div>
<div class="t" style="left:63.40px;top:921.70px;width:145.10px;height:14.30px;line-height:14.30px;font-size:7.8px;text-align:left;color:#000;padding-left:2px;">3時間以上</div>
<div class="t" style="left:208.50px;top:921.70px;width:145.70px;height:14.30px;line-height:14.30px;font-size:7.8px;text-align:left;color:#000;padding-left:2px;">2時間程度</div>
<div class="t" style="left:354.20px;top:921.70px;width:105.20px;height:14.30px;line-height:14.30px;font-size:7.8px;text-align:left;color:#000;padding-left:2px;">1時間程度</div>
<div class="t" style="left:459.40px;top:921.70px;width:98.70px;height:14.30px;line-height:14.30px;font-size:7.8px;text-align:left;color:#000;padding-left:2px;">30分程度</div>
<div class="t" style="left:558.10px;top:921.70px;width:99.40px;height:14.30px;line-height:14.30px;font-size:7.8px;text-align:left;color:#000;padding-left:2px;">全くしていない</div>
<div class="t" style="left:23.90px;top:940.85px;width:39.50px;height:55.50px;line-height:11.10px;font-size:9.5px;text-align:center;color:#000;"><span class="sx" style="transform:scaleX(0.9);transform-origin:50% 50%;">6<br>8–10<br>14–18<br>22–24<br>26–29</span></div>
<div class="t" style="left:63.40px;top:936.00px;width:145.10px;height:63.20px;line-height:63.20px;font-size:7.8px;text-align:left;color:#000;padding-left:2px;">強くそう思う</div>
<div class="t" style="left:208.50px;top:936.00px;width:145.70px;height:63.20px;line-height:63.20px;font-size:7.8px;text-align:left;color:#000;padding-left:2px;">まあそう思う</div>
<div class="t" style="left:354.20px;top:936.00px;width:105.20px;height:63.20px;line-height:63.20px;font-size:7.8px;text-align:left;color:#000;padding-left:2px;">あまりそう思わない</div>
<div class="t" style="left:459.40px;top:936.00px;width:98.70px;height:63.20px;line-height:63.20px;font-size:7.8px;text-align:left;color:#000;padding-left:2px;">全くそう思わない</div>
<div class="t" style="left:23.90px;top:1000.20px;width:39.50px;height:28.20px;line-height:28.20px;font-size:9.5px;text-align:center;color:#000;"><span class="sx" style="transform:scaleX(0.9);transform-origin:50% 50%;">7</span></div>
<div class="t" style="left:63.40px;top:999.20px;width:145.10px;height:28.20px;line-height:28.20px;font-size:7.8px;text-align:left;color:#000;padding-left:2px;">教員に教わる</div>
<div class="t" style="left:208.50px;top:999.20px;width:145.70px;height:28.20px;line-height:28.20px;font-size:7.8px;text-align:left;color:#000;padding-left:2px;">友人や先輩に教わる</div>
<div class="t" style="left:354.20px;top:1002.80px;width:105.20px;height:21.00px;line-height:10.50px;font-size:7.8px;text-align:left;color:#000;padding-left:2px;">本やインターネットで<br>独力で解決する</div>
<div class="t" style="left:459.40px;top:999.20px;width:98.70px;height:28.20px;line-height:28.20px;font-size:7.8px;text-align:left;color:#000;padding-left:2px;">特に対処しなかった</div>
<div class="t" style="left:558.10px;top:999.20px;width:99.40px;height:28.20px;line-height:28.20px;font-size:7.8px;text-align:left;color:#000;padding-left:2px;">その他</div>
<div class="t" style="left:23.90px;top:1028.40px;width:39.50px;height:13.80px;line-height:13.80px;font-size:9.5px;text-align:center;color:#000;"><span class="sx" style="transform:scaleX(0.9);transform-origin:50% 50%;">11</span></div>
<div class="t" style="left:63.40px;top:1027.40px;width:145.10px;height:13.80px;line-height:13.80px;font-size:7.8px;text-align:left;color:#000;padding-left:2px;">強くそう思う</div>
<div class="t" style="left:208.50px;top:1027.40px;width:145.70px;height:13.80px;line-height:13.80px;font-size:7.8px;text-align:left;color:#000;padding-left:2px;">まあそう思う</div>
<div class="t" style="left:354.20px;top:1027.40px;width:105.20px;height:13.80px;line-height:13.80px;font-size:7.8px;text-align:left;color:#000;padding-left:2px;">あまりそう思わない</div>
<div class="t" style="left:459.40px;top:1027.40px;width:98.70px;height:13.80px;line-height:13.80px;font-size:7.8px;text-align:left;color:#000;padding-left:2px;">全くそう思わない</div>
<div class="t" style="left:558.10px;top:1027.40px;width:99.40px;height:13.80px;line-height:13.80px;font-size:7.8px;text-align:left;color:#000;padding-left:2px;">該当しない</div>
<div class="t" style="left:23.90px;top:1042.20px;width:39.50px;height:14.10px;line-height:14.10px;font-size:9.5px;text-align:center;color:#000;"><span class="sx" style="transform:scaleX(0.9);transform-origin:50% 50%;">19</span></div>
<div class="t" style="left:63.40px;top:1041.20px;width:145.10px;height:14.10px;line-height:14.10px;font-size:7.8px;text-align:left;color:#000;padding-left:2px;">レポートの書き方</div>
<div class="t" style="left:208.50px;top:1041.20px;width:145.70px;height:14.10px;line-height:14.10px;font-size:7.8px;text-align:left;color:#000;padding-left:2px;">討論（質疑応答）</div>
<div class="t" style="left:354.20px;top:1041.20px;width:105.20px;height:14.10px;line-height:14.10px;font-size:7.8px;text-align:left;color:#000;padding-left:2px;">口頭発表</div>
<div class="t" style="left:459.40px;top:1041.20px;width:98.70px;height:14.10px;line-height:14.10px;font-size:7.8px;text-align:left;color:#000;padding-left:2px;">ディベート</div>
<div class="t" style="left:558.10px;top:1041.20px;width:99.40px;height:14.10px;line-height:14.10px;font-size:7.8px;text-align:left;color:#000;padding-left:2px;">ペア/グループ・ワーク</div>
<div class="t" style="left:657.50px;top:1041.20px;width:117.70px;height:14.10px;line-height:14.10px;font-size:10px;text-align:left;color:#000;padding-left:2px;overflow:hidden;"><span class="sc" style="transform:scale(0.62);">アクティブ・ラーニングを通じた実践力</span></div>
<div class="t" style="left:23.90px;top:1056.30px;width:39.50px;height:14.10px;line-height:14.10px;font-size:9.5px;text-align:center;color:#000;"><span class="sx" style="transform:scaleX(0.9);transform-origin:50% 50%;">27</span></div>
<div class="t" style="left:63.40px;top:1055.30px;width:145.10px;height:14.10px;line-height:14.10px;font-size:7.8px;text-align:left;color:#000;padding-left:2px;">多すぎる</div>
<div class="t" style="left:208.50px;top:1055.30px;width:145.70px;height:14.10px;line-height:14.10px;font-size:7.8px;text-align:left;color:#000;padding-left:2px;">ちょうどいい</div>
<div class="t" style="left:354.20px;top:1055.30px;width:105.20px;height:14.10px;line-height:14.10px;font-size:7.8px;text-align:left;color:#000;padding-left:2px;">少なすぎる</div>
<div class="t" style="left:640.00px;top:1066.00px;width:133.00px;height:21.00px;line-height:21.00px;font-size:15.4px;text-align:right;color:#000;font-weight:bold;padding-right:1.5px;">敬和学園大学</div>
<div class="t" style="left:279.50px;top:597.80px;width:240.00px;height:22.00px;line-height:22.00px;font-size:14.6px;text-align:center;color:#555;-webkit-text-stroke:0;">設問№8～18　回答率一覧</div>
<div class="t" style="left:10.00px;top:799.60px;width:43.50px;height:12.00px;line-height:12.00px;font-size:8.6px;text-align:right;color:#484848;padding-right:0px;">0%</div>
<div class="t" style="left:10.00px;top:782.49px;width:43.50px;height:12.00px;line-height:12.00px;font-size:8.6px;text-align:right;color:#484848;padding-right:0px;">10%</div>
<div class="t" style="left:10.00px;top:765.38px;width:43.50px;height:12.00px;line-height:12.00px;font-size:8.6px;text-align:right;color:#484848;padding-right:0px;">20%</div>
<div class="t" style="left:10.00px;top:748.27px;width:43.50px;height:12.00px;line-height:12.00px;font-size:8.6px;text-align:right;color:#484848;padding-right:0px;">30%</div>
<div class="t" style="left:10.00px;top:731.16px;width:43.50px;height:12.00px;line-height:12.00px;font-size:8.6px;text-align:right;color:#484848;padding-right:0px;">40%</div>
<div class="t" style="left:10.00px;top:714.05px;width:43.50px;height:12.00px;line-height:12.00px;font-size:8.6px;text-align:right;color:#484848;padding-right:0px;">50%</div>
<div class="t" style="left:10.00px;top:696.94px;width:43.50px;height:12.00px;line-height:12.00px;font-size:8.6px;text-align:right;color:#484848;padding-right:0px;">60%</div>
<div class="t" style="left:10.00px;top:679.83px;width:43.50px;height:12.00px;line-height:12.00px;font-size:8.6px;text-align:right;color:#484848;padding-right:0px;">70%</div>
<div class="t" style="left:10.00px;top:662.72px;width:43.50px;height:12.00px;line-height:12.00px;font-size:8.6px;text-align:right;color:#484848;padding-right:0px;">80%</div>
<div class="t" style="left:10.00px;top:645.61px;width:43.50px;height:12.00px;line-height:12.00px;font-size:8.6px;text-align:right;color:#484848;padding-right:0px;">90%</div>
<div class="t" style="left:10.00px;top:628.50px;width:43.50px;height:12.00px;line-height:12.00px;font-size:8.6px;text-align:right;color:#484848;padding-right:0px;">100%</div>
<div class="t" style="left:756.00px;top:799.60px;width:14.00px;height:12.00px;line-height:12.00px;font-size:8.6px;text-align:center;color:#484848;">1</div>
<div class="t" style="left:756.00px;top:742.57px;width:14.00px;height:12.00px;line-height:12.00px;font-size:8.6px;text-align:center;color:#484848;">2</div>
<div class="t" style="left:756.00px;top:685.53px;width:14.00px;height:12.00px;line-height:12.00px;font-size:8.6px;text-align:center;color:#484848;">3</div>
<div class="t" style="left:756.00px;top:628.50px;width:14.00px;height:12.00px;line-height:12.00px;font-size:8.6px;text-align:center;color:#484848;">4</div>
<div class="t" style="left:78.10px;top:812.00px;width:30.00px;height:12.00px;line-height:12.00px;font-size:8.6px;text-align:center;color:#484848;">8</div>
<div class="t" style="left:140.82px;top:812.00px;width:30.00px;height:12.00px;line-height:12.00px;font-size:8.6px;text-align:center;color:#484848;">9</div>
<div class="t" style="left:203.54px;top:812.00px;width:30.00px;height:12.00px;line-height:12.00px;font-size:8.6px;text-align:center;color:#484848;">10</div>
<div class="t" style="left:266.26px;top:812.00px;width:30.00px;height:12.00px;line-height:12.00px;font-size:8.6px;text-align:center;color:#484848;">11</div>
<div class="t" style="left:328.98px;top:812.00px;width:30.00px;height:12.00px;line-height:12.00px;font-size:8.6px;text-align:center;color:#484848;">12</div>
<div class="t" style="left:391.70px;top:812.00px;width:30.00px;height:12.00px;line-height:12.00px;font-size:8.6px;text-align:center;color:#484848;">13</div>
<div class="t" style="left:454.42px;top:812.00px;width:30.00px;height:12.00px;line-height:12.00px;font-size:8.6px;text-align:center;color:#484848;">14</div>
<div class="t" style="left:517.14px;top:812.00px;width:30.00px;height:12.00px;line-height:12.00px;font-size:8.6px;text-align:center;color:#484848;">15</div>
<div class="t" style="left:579.86px;top:812.00px;width:30.00px;height:12.00px;line-height:12.00px;font-size:8.6px;text-align:center;color:#484848;">16</div>
<div class="t" style="left:642.58px;top:812.00px;width:30.00px;height:12.00px;line-height:12.00px;font-size:8.6px;text-align:center;color:#484848;">17</div>
<div class="t" style="left:705.30px;top:812.00px;width:30.00px;height:12.00px;line-height:12.00px;font-size:8.6px;text-align:center;color:#484848;">18</div>
<div class="t" style="left:290.80px;top:833.10px;width:60.00px;height:12.00px;line-height:12.00px;font-size:8.6px;text-align:left;color:#484848;padding-left:0px;">A</div>
<div class="t" style="left:328.40px;top:833.10px;width:60.00px;height:12.00px;line-height:12.00px;font-size:8.6px;text-align:left;color:#484848;padding-left:0px;">B</div>
<div class="t" style="left:366.40px;top:833.10px;width:60.00px;height:12.00px;line-height:12.00px;font-size:8.6px;text-align:left;color:#484848;padding-left:0px;">C</div>
<div class="t" style="left:404.30px;top:833.10px;width:60.00px;height:12.00px;line-height:12.00px;font-size:8.6px;text-align:left;color:#484848;padding-left:0px;">D</div>
<div class="t" style="left:443.20px;top:833.10px;width:60.00px;height:12.00px;line-height:12.00px;font-size:8.6px;text-align:left;color:#484848;padding-left:0px;">平均</div>
<div class="t" style="left:494.60px;top:833.10px;width:60.00px;height:12.00px;line-height:12.00px;font-size:8.6px;text-align:left;color:#484848;padding-left:0px;">全体平均</div>
</body>
</html>
